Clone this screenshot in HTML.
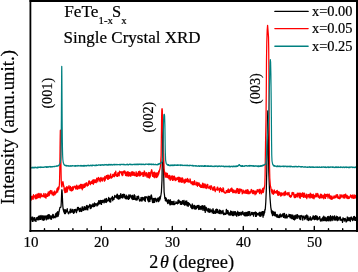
<!DOCTYPE html>
<html><head><meta charset="utf-8"><style>
html,body{margin:0;padding:0;background:#fff;width:358px;height:272px;overflow:hidden}
svg{display:block;will-change:transform}
text{font-family:"Liberation Serif",serif}
</style></head><body>
<svg width="358" height="272" viewBox="0 0 358 272">
<rect width="358" height="272" fill="#fff"/>
<g fill="none" stroke-linejoin="round">
<path d="M31.00 218.13 L31.25 219.68 L31.50 219.91 L31.75 217.07 L32.00 217.59 L32.25 221.41 L32.50 217.21 L32.75 217.18 L33.00 221.35 L33.25 219.62 L33.50 218.29 L33.75 218.95 L34.00 219.78 L34.25 218.06 L34.50 217.55 L34.75 220.80 L35.00 220.25 L35.25 219.40 L35.50 220.98 L35.75 219.77 L36.00 221.47 L36.25 217.68 L36.50 219.20 L36.75 218.85 L37.00 218.31 L37.25 219.43 L37.50 217.64 L37.75 219.91 L38.00 220.06 L38.25 216.56 L38.50 217.78 L38.75 216.79 L39.00 215.88 L39.25 219.58 L39.50 217.41 L39.75 216.05 L40.00 218.41 L40.25 216.09 L40.50 219.45 L40.75 216.22 L41.00 215.31 L41.25 216.04 L41.50 216.90 L41.75 217.59 L42.00 219.72 L42.25 218.82 L42.50 217.26 L42.75 215.73 L43.00 216.42 L43.25 220.41 L43.50 217.87 L43.75 219.19 L44.00 216.04 L44.25 215.84 L44.50 219.86 L44.75 218.57 L45.00 217.27 L45.25 217.45 L45.50 216.19 L45.75 216.58 L46.00 215.91 L46.25 219.80 L46.50 217.87 L46.75 216.04 L47.00 218.98 L47.25 215.82 L47.50 215.48 L47.75 218.01 L48.00 219.10 L48.25 214.70 L48.50 218.39 L48.75 215.40 L49.00 214.93 L49.25 214.71 L49.50 216.11 L49.75 218.17 L50.00 217.10 L50.25 218.92 L50.50 215.86 L50.75 216.02 L51.00 215.85 L51.25 219.27 L51.50 219.25 L51.75 216.10 L52.00 216.67 L52.25 215.72 L52.50 217.68 L52.75 214.28 L53.00 214.30 L53.25 215.80 L53.50 214.97 L53.75 218.03 L54.00 217.47 L54.25 216.44 L54.50 216.65 L54.75 216.88 L55.00 217.03 L55.25 217.77 L55.50 213.87 L55.75 215.78 L56.00 213.46 L56.25 214.65 L56.50 216.31 L56.55 216.80 L56.60 216.32 L56.65 213.02 L56.70 214.48 L56.75 213.35 L56.80 216.99 L56.85 213.08 L56.90 213.46 L56.95 213.90 L57.00 212.42 L57.05 215.81 L57.10 214.85 L57.15 212.79 L57.20 214.27 L57.25 212.32 L57.30 214.36 L57.35 212.98 L57.40 212.30 L57.45 212.37 L57.50 214.36 L57.55 214.86 L57.60 213.63 L57.65 214.92 L57.70 213.57 L57.75 211.55 L57.80 213.05 L57.85 213.59 L57.90 216.19 L57.95 212.67 L58.00 212.30 L58.05 214.45 L58.10 216.29 L58.15 216.05 L58.20 215.25 L58.25 212.63 L58.30 215.53 L58.35 214.79 L58.40 212.26 L58.45 213.78 L58.50 211.98 L58.55 214.85 L58.60 214.58 L58.65 214.61 L58.70 214.20 L58.75 212.26 L58.80 213.73 L58.85 212.12 L58.90 211.60 L58.95 212.19 L59.00 212.20 L59.05 211.48 L59.10 211.91 L59.15 211.59 L59.20 210.57 L59.25 210.99 L59.30 210.27 L59.35 210.56 L59.40 209.68 L59.45 209.89 L59.50 209.29 L59.55 209.10 L59.60 208.91 L59.65 208.62 L59.70 208.40 L59.75 208.21 L59.80 208.04 L59.85 207.87 L59.90 207.73 L59.95 207.61 L60.00 207.50 L60.05 207.42 L60.10 207.35 L60.15 207.30 L60.20 207.27 L60.25 207.25 L60.30 207.25 L60.35 207.26 L60.40 207.27 L60.45 207.30 L60.50 207.32 L60.55 207.34 L60.60 207.35 L60.65 207.35 L60.70 207.32 L60.75 207.27 L60.80 207.18 L60.85 207.04 L60.90 206.84 L60.95 206.58 L61.00 206.22 L61.05 205.78 L61.10 205.22 L61.15 204.55 L61.20 203.75 L61.25 202.83 L61.30 201.78 L61.35 200.63 L61.40 199.38 L61.45 198.06 L61.50 196.70 L61.55 195.35 L61.60 194.05 L61.65 192.85 L61.70 191.78 L61.75 190.90 L61.80 190.24 L61.85 189.84 L61.90 189.71 L61.95 189.81 L62.00 190.10 L62.05 190.56 L62.10 191.18 L62.15 191.95 L62.20 192.84 L62.25 193.84 L62.30 194.91 L62.35 196.04 L62.40 197.21 L62.45 198.37 L62.50 199.53 L62.55 200.65 L62.60 201.73 L62.65 202.75 L62.70 203.69 L62.75 204.57 L62.80 205.37 L62.85 206.09 L62.90 206.73 L62.95 207.30 L63.00 207.77 L63.05 208.32 L63.10 209.04 L63.15 208.43 L63.20 208.81 L63.25 209.35 L63.30 209.81 L63.35 209.05 L63.40 209.17 L63.45 209.63 L63.50 209.97 L63.55 210.96 L63.60 210.77 L63.65 209.37 L63.70 209.40 L63.75 210.65 L63.80 211.96 L63.85 212.04 L63.90 210.46 L63.95 212.14 L64.00 212.23 L64.05 210.74 L64.10 211.99 L64.15 210.97 L64.20 210.16 L64.25 211.57 L64.30 209.95 L64.35 212.12 L64.40 212.71 L64.45 213.16 L64.50 211.53 L64.55 210.35 L64.60 213.29 L64.65 213.22 L64.70 213.55 L64.75 211.87 L64.80 212.37 L64.85 211.29 L64.90 210.58 L64.95 210.79 L65.00 212.50 L65.05 210.98 L65.10 212.18 L65.15 211.70 L65.20 211.56 L65.25 213.67 L65.30 209.66 L65.35 211.76 L65.40 210.35 L65.50 213.44 L65.75 211.62 L66.00 210.97 L66.25 210.26 L66.50 212.12 L66.75 211.49 L67.00 210.17 L67.25 208.59 L67.50 211.10 L67.75 211.99 L68.00 211.82 L68.25 213.53 L68.50 213.75 L68.75 213.80 L69.00 213.10 L69.25 211.78 L69.50 211.90 L69.75 211.19 L70.00 211.07 L70.25 209.13 L70.50 212.77 L70.75 210.27 L71.00 209.08 L71.25 211.02 L71.50 212.18 L71.75 210.93 L72.00 210.71 L72.25 212.07 L72.50 210.03 L72.75 209.33 L73.00 212.21 L73.25 211.98 L73.50 213.43 L73.75 211.26 L74.00 213.02 L74.25 209.61 L74.50 209.69 L74.75 212.25 L75.00 210.44 L75.25 209.38 L75.50 209.46 L75.75 210.42 L76.00 210.11 L76.25 211.15 L76.50 212.64 L76.75 210.05 L77.00 209.00 L77.25 210.60 L77.50 207.40 L77.75 209.17 L78.00 208.72 L78.25 209.05 L78.50 207.46 L78.75 209.63 L79.00 210.07 L79.25 210.68 L79.50 211.67 L79.75 208.50 L80.00 210.01 L80.25 209.01 L80.50 208.08 L80.75 211.22 L81.00 210.67 L81.25 211.49 L81.50 210.70 L81.75 211.48 L82.00 207.40 L82.25 206.76 L82.50 207.83 L82.75 209.02 L83.00 210.18 L83.25 208.91 L83.50 209.20 L83.75 210.32 L84.00 206.82 L84.25 209.62 L84.50 206.62 L84.75 207.39 L85.00 209.60 L85.25 209.42 L85.50 207.83 L85.75 207.22 L86.00 209.77 L86.25 206.97 L86.50 205.73 L86.75 206.78 L87.00 205.36 L87.25 209.18 L87.50 206.21 L87.75 209.94 L88.00 206.35 L88.25 206.43 L88.50 207.63 L88.75 206.38 L89.00 206.75 L89.25 205.28 L89.50 206.43 L89.75 204.31 L90.00 205.49 L90.25 208.59 L90.50 205.12 L90.75 205.23 L91.00 206.97 L91.25 208.13 L91.50 205.20 L91.75 205.11 L92.00 206.64 L92.25 206.71 L92.50 206.07 L92.75 204.00 L93.00 203.82 L93.25 206.48 L93.50 206.10 L93.75 206.89 L94.00 206.17 L94.25 204.17 L94.50 202.80 L94.75 206.46 L95.00 205.43 L95.25 205.06 L95.50 205.22 L95.75 203.81 L96.00 203.63 L96.25 204.58 L96.50 204.04 L96.75 205.19 L97.00 206.08 L97.25 205.57 L97.50 203.18 L97.75 202.92 L98.00 205.01 L98.25 202.17 L98.50 204.14 L98.75 200.66 L99.00 201.83 L99.25 202.59 L99.50 203.77 L99.75 203.90 L100.00 200.57 L100.25 202.71 L100.50 202.75 L100.75 200.45 L101.00 203.92 L101.25 202.71 L101.50 204.34 L101.75 200.61 L102.00 201.95 L102.25 200.42 L102.50 202.32 L102.75 202.02 L103.00 201.37 L103.25 200.09 L103.50 201.25 L103.75 200.59 L104.00 202.89 L104.25 200.34 L104.50 200.44 L104.75 199.08 L105.00 198.95 L105.25 202.14 L105.50 199.14 L105.75 201.79 L106.00 200.59 L106.25 202.50 L106.50 198.26 L106.75 201.92 L107.00 200.92 L107.25 200.30 L107.50 200.98 L107.75 200.94 L108.00 199.65 L108.25 200.54 L108.50 198.38 L108.75 197.35 L109.00 200.57 L109.25 199.49 L109.50 201.70 L109.75 198.54 L110.00 201.25 L110.25 202.16 L110.50 201.58 L110.75 201.95 L111.00 198.01 L111.25 198.07 L111.50 198.38 L111.75 198.86 L112.00 197.09 L112.25 197.08 L112.50 196.41 L112.75 200.59 L113.00 197.73 L113.25 198.84 L113.50 198.04 L113.75 199.43 L114.00 199.41 L114.25 197.26 L114.50 197.77 L114.75 195.37 L115.00 196.40 L115.25 196.17 L115.50 196.15 L115.75 196.14 L116.00 197.26 L116.25 195.84 L116.50 195.52 L116.75 198.00 L117.00 194.32 L117.25 194.15 L117.50 194.40 L117.75 198.64 L118.00 197.66 L118.25 197.83 L118.50 199.07 L118.75 195.72 L119.00 198.93 L119.25 195.54 L119.50 197.10 L119.75 197.44 L120.00 198.73 L120.25 194.96 L120.50 195.94 L120.75 193.59 L121.00 194.30 L121.25 197.59 L121.50 197.16 L121.75 195.73 L122.00 196.93 L122.25 197.54 L122.50 194.71 L122.75 198.02 L123.00 195.59 L123.25 194.20 L123.50 196.16 L123.75 196.41 L124.00 197.14 L124.25 197.08 L124.50 194.32 L124.75 196.97 L125.00 198.16 L125.25 197.21 L125.50 198.63 L125.75 196.43 L126.00 197.86 L126.25 195.03 L126.50 198.78 L126.75 196.77 L127.00 198.90 L127.25 196.24 L127.50 197.40 L127.75 198.58 L128.00 198.63 L128.25 197.55 L128.50 199.35 L128.75 194.93 L129.00 194.93 L129.25 196.85 L129.50 198.58 L129.75 197.17 L130.00 195.40 L130.25 194.79 L130.50 196.52 L130.75 196.59 L131.00 196.84 L131.25 197.63 L131.50 195.98 L131.75 198.80 L132.00 195.97 L132.25 195.26 L132.50 196.47 L132.75 199.56 L133.00 195.77 L133.25 196.22 L133.50 199.33 L133.75 196.51 L134.00 198.63 L134.25 194.63 L134.50 199.25 L134.75 195.84 L135.00 195.73 L135.25 198.59 L135.50 199.76 L135.75 199.47 L136.00 198.56 L136.25 199.57 L136.50 200.09 L136.75 198.42 L137.00 196.34 L137.25 199.91 L137.50 197.88 L137.75 197.43 L138.00 198.37 L138.25 196.03 L138.50 196.26 L138.75 197.34 L139.00 199.08 L139.25 199.66 L139.50 200.98 L139.75 200.52 L140.00 201.23 L140.25 199.66 L140.50 200.40 L140.75 199.87 L141.00 197.59 L141.25 197.47 L141.50 200.76 L141.75 198.34 L142.00 201.15 L142.25 199.55 L142.50 197.30 L142.75 199.84 L143.00 199.23 L143.25 197.68 L143.50 198.28 L143.75 198.54 L144.00 198.62 L144.25 200.47 L144.50 196.98 L144.75 199.02 L145.00 199.57 L145.25 201.34 L145.50 196.92 L145.75 196.72 L146.00 197.49 L146.25 197.59 L146.50 197.50 L146.75 196.88 L147.00 197.80 L147.25 198.04 L147.50 199.34 L147.70 200.02 L147.75 198.78 L147.80 197.82 L147.85 197.80 L147.90 198.33 L147.95 197.87 L148.00 199.28 L148.05 200.89 L148.10 200.39 L148.15 197.70 L148.20 196.85 L148.25 196.05 L148.30 199.04 L148.35 198.91 L148.40 200.54 L148.45 197.59 L148.50 198.52 L148.55 200.45 L148.60 200.21 L148.65 199.85 L148.70 201.80 L148.75 198.09 L148.80 198.38 L148.85 200.14 L148.90 200.08 L148.95 201.92 L149.00 201.73 L149.05 199.64 L149.10 200.45 L149.15 200.31 L149.20 197.48 L149.25 199.75 L149.30 197.94 L149.35 198.10 L149.40 197.20 L149.45 196.46 L149.50 200.55 L149.55 200.10 L149.60 200.33 L149.65 198.35 L149.70 199.31 L149.75 197.86 L149.80 199.98 L149.85 200.95 L149.90 200.71 L149.95 201.37 L150.00 197.47 L150.05 200.09 L150.10 197.53 L150.15 199.14 L150.20 197.36 L150.25 199.30 L150.30 199.12 L150.35 198.43 L150.40 198.18 L150.45 199.31 L150.50 198.37 L150.55 197.94 L150.60 196.85 L150.65 196.99 L150.70 198.40 L150.75 198.24 L150.80 196.48 L150.85 197.20 L150.90 196.80 L150.95 195.42 L151.00 195.32 L151.05 195.78 L151.10 195.10 L151.15 195.85 L151.20 195.11 L151.25 195.63 L151.30 195.64 L151.35 195.18 L151.40 196.46 L151.45 195.57 L151.50 195.40 L151.55 195.45 L151.60 196.66 L151.65 197.46 L151.70 196.94 L151.75 198.78 L151.80 197.42 L151.85 199.53 L151.90 196.98 L151.95 197.84 L152.00 197.77 L152.05 199.20 L152.10 198.87 L152.15 199.23 L152.20 201.28 L152.25 200.16 L152.30 200.88 L152.35 199.71 L152.40 201.71 L152.45 200.41 L152.50 201.61 L152.55 202.53 L152.60 200.82 L152.65 199.77 L152.70 199.02 L152.75 202.36 L152.80 201.63 L152.85 201.92 L152.90 199.09 L152.95 200.03 L153.00 202.03 L153.05 199.09 L153.10 201.75 L153.15 200.57 L153.20 199.25 L153.25 200.13 L153.30 198.80 L153.35 201.47 L153.40 201.70 L153.45 198.50 L153.50 199.89 L153.55 202.26 L153.60 199.66 L153.65 201.27 L153.70 202.51 L153.75 201.13 L153.80 198.91 L153.85 202.40 L153.90 201.73 L153.95 200.88 L154.00 199.76 L154.05 200.79 L154.10 199.64 L154.15 198.76 L154.20 198.78 L154.25 198.43 L154.30 199.09 L154.35 199.58 L154.40 201.48 L154.45 201.50 L154.50 201.37 L154.55 202.40 L154.60 198.99 L154.65 200.49 L154.75 199.05 L155.00 200.38 L155.25 198.72 L155.50 198.20 L155.75 198.51 L156.00 199.79 L156.25 201.60 L156.50 199.40 L156.75 201.61 L157.00 199.33 L157.25 199.44 L157.50 200.25 L157.75 198.19 L158.00 200.05 L158.25 200.79 L158.50 201.72 L158.55 198.01 L158.60 201.29 L158.65 200.21 L158.70 200.38 L158.75 197.99 L158.80 201.27 L158.85 198.56 L158.90 199.46 L158.95 199.37 L159.00 200.89 L159.05 199.27 L159.10 200.87 L159.15 197.49 L159.20 199.31 L159.25 198.81 L159.30 198.33 L159.35 198.93 L159.40 198.69 L159.45 197.23 L159.50 199.17 L159.55 197.02 L159.60 198.40 L159.65 198.34 L159.70 197.61 L159.75 199.13 L159.80 199.89 L159.85 197.42 L159.90 197.82 L159.95 196.88 L160.00 199.21 L160.05 196.98 L160.10 197.45 L160.15 198.06 L160.20 197.89 L160.25 196.49 L160.30 198.91 L160.35 196.68 L160.40 197.52 L160.45 196.31 L160.50 197.22 L160.55 196.44 L160.60 196.21 L160.65 196.37 L160.70 196.40 L160.75 196.22 L160.80 196.19 L160.85 195.22 L160.90 194.80 L160.95 194.74 L161.00 194.56 L161.05 194.35 L161.10 194.00 L161.15 193.67 L161.20 193.33 L161.25 193.00 L161.30 192.67 L161.35 192.33 L161.40 192.00 L161.45 191.00 L161.50 190.00 L161.55 189.00 L161.60 188.00 L161.65 187.00 L161.70 186.00 L161.75 185.00 L161.80 184.00 L161.85 183.00 L161.90 182.00 L161.95 181.00 L162.00 180.00 L162.05 176.67 L162.10 173.33 L162.15 170.00 L162.20 166.67 L162.25 163.33 L162.30 160.00 L162.35 156.33 L162.40 152.67 L162.45 149.00 L162.50 145.33 L162.55 141.67 L162.60 138.00 L162.65 136.00 L162.70 134.00 L162.75 132.00 L162.80 130.00 L162.85 128.00 L162.90 126.00 L162.95 124.00 L163.00 126.67 L163.05 129.33 L163.10 132.00 L163.15 134.67 L163.20 137.33 L163.25 140.00 L163.30 144.00 L163.35 148.00 L163.40 152.00 L163.45 156.00 L163.50 160.00 L163.55 163.33 L163.60 166.67 L163.65 170.00 L163.70 173.33 L163.75 176.67 L163.80 180.00 L163.85 182.00 L163.90 184.00 L163.95 186.00 L164.00 188.00 L164.05 190.00 L164.10 192.00 L164.15 192.39 L164.20 192.79 L164.25 193.18 L164.30 193.57 L164.35 193.96 L164.40 194.36 L164.45 194.75 L164.50 195.08 L164.55 195.50 L164.60 196.38 L164.65 196.83 L164.70 196.76 L164.75 197.80 L164.80 198.56 L164.85 197.44 L164.90 198.78 L164.95 197.63 L165.00 197.76 L165.05 197.10 L165.10 197.52 L165.15 198.73 L165.20 197.39 L165.25 198.86 L165.30 198.22 L165.35 200.62 L165.40 198.38 L165.45 198.53 L165.50 198.87 L165.55 199.87 L165.60 200.77 L165.65 200.77 L165.70 200.71 L165.75 200.57 L165.80 200.22 L165.85 199.29 L165.90 197.99 L165.95 200.98 L166.00 199.37 L166.05 200.41 L166.10 198.24 L166.15 199.47 L166.20 198.35 L166.25 199.43 L166.30 200.82 L166.35 199.43 L166.40 200.81 L166.45 198.78 L166.50 199.75 L166.75 201.17 L167.00 201.64 L167.25 200.34 L167.50 202.82 L167.75 203.63 L168.00 203.48 L168.25 199.72 L168.50 202.35 L168.75 201.51 L169.00 202.66 L169.25 200.41 L169.50 203.75 L169.75 202.42 L170.00 204.92 L170.25 199.64 L170.50 202.28 L170.75 202.75 L171.00 204.62 L171.25 204.21 L171.50 201.36 L171.75 202.12 L172.00 204.02 L172.25 202.41 L172.50 201.52 L172.75 204.55 L173.00 204.28 L173.25 201.90 L173.50 203.05 L173.75 204.73 L174.00 201.11 L174.25 204.57 L174.50 204.53 L174.75 203.64 L175.00 203.65 L175.25 203.84 L175.50 203.23 L175.75 203.50 L176.00 201.52 L176.25 203.35 L176.50 203.47 L176.75 202.56 L177.00 203.38 L177.25 202.35 L177.50 203.86 L177.75 203.51 L178.00 200.33 L178.25 203.47 L178.50 201.12 L178.75 199.97 L179.00 200.38 L179.25 201.15 L179.50 202.39 L179.75 201.90 L180.00 201.33 L180.25 203.97 L180.50 202.00 L180.75 204.43 L181.00 201.37 L181.25 203.68 L181.50 202.12 L181.75 204.43 L182.00 203.25 L182.25 203.48 L182.50 200.62 L182.75 203.63 L183.00 201.84 L183.25 203.61 L183.50 204.26 L183.75 200.87 L184.00 200.34 L184.25 203.96 L184.50 205.14 L184.75 204.80 L185.00 202.93 L185.25 204.90 L185.50 201.08 L185.75 201.35 L186.00 203.78 L186.25 203.50 L186.50 204.95 L186.75 200.89 L187.00 203.47 L187.25 205.93 L187.50 202.59 L187.75 202.78 L188.00 204.25 L188.25 206.27 L188.50 202.51 L188.75 204.87 L189.00 203.68 L189.25 204.13 L189.50 203.48 L189.75 204.77 L190.00 205.29 L190.25 204.59 L190.50 205.31 L190.75 206.56 L191.00 207.47 L191.25 206.14 L191.50 205.66 L191.75 208.55 L192.00 204.86 L192.25 203.93 L192.50 208.58 L192.75 205.67 L193.00 205.28 L193.25 206.52 L193.50 206.48 L193.75 206.51 L194.00 208.74 L194.25 206.21 L194.50 205.28 L194.75 205.70 L195.00 209.24 L195.25 207.06 L195.50 206.31 L195.75 208.08 L196.00 209.06 L196.25 207.02 L196.50 208.42 L196.75 205.84 L197.00 206.50 L197.25 207.65 L197.50 205.74 L197.75 206.02 L198.00 205.44 L198.25 205.52 L198.50 208.76 L198.75 209.50 L199.00 205.42 L199.25 206.57 L199.50 208.41 L199.75 209.24 L200.00 207.65 L200.25 208.40 L200.50 206.27 L200.75 208.92 L201.00 209.57 L201.25 207.84 L201.50 206.97 L201.75 205.81 L202.00 208.77 L202.25 208.76 L202.50 205.66 L202.75 208.23 L203.00 210.35 L203.25 206.02 L203.50 206.68 L203.75 206.21 L204.00 208.12 L204.25 208.08 L204.50 210.50 L204.75 205.62 L205.00 207.38 L205.25 212.45 L205.50 207.03 L205.75 208.24 L206.00 209.17 L206.25 207.29 L206.50 208.86 L206.75 210.65 L207.00 210.79 L207.25 210.92 L207.50 211.11 L207.75 211.13 L208.00 208.49 L208.25 212.08 L208.50 211.06 L208.75 208.96 L209.00 210.01 L209.25 209.29 L209.50 212.29 L209.75 209.47 L210.00 208.87 L210.25 211.77 L210.50 211.60 L210.75 211.88 L211.00 210.95 L211.25 209.94 L211.50 210.08 L211.75 210.63 L212.00 210.92 L212.25 212.86 L212.50 209.77 L212.75 212.20 L213.00 208.66 L213.25 209.62 L213.50 213.35 L213.75 210.26 L214.00 211.45 L214.25 213.21 L214.50 211.94 L214.75 211.51 L215.00 212.28 L215.25 213.49 L215.50 213.20 L215.75 209.61 L216.00 209.49 L216.25 210.08 L216.50 209.19 L216.75 212.43 L217.00 212.90 L217.25 209.65 L217.50 209.47 L217.75 210.46 L218.00 212.30 L218.25 212.86 L218.50 211.26 L218.75 212.20 L219.00 213.44 L219.25 213.53 L219.50 209.95 L219.75 212.66 L220.00 213.18 L220.25 213.73 L220.50 211.51 L220.75 210.36 L221.00 211.81 L221.25 211.21 L221.50 211.60 L221.75 213.58 L222.00 212.91 L222.25 212.89 L222.50 212.99 L222.75 210.70 L223.00 210.33 L223.25 212.22 L223.50 214.60 L223.75 213.46 L224.00 214.09 L224.25 213.05 L224.50 213.83 L224.75 214.56 L225.00 213.27 L225.25 214.12 L225.50 214.46 L225.75 213.13 L226.00 213.38 L226.25 209.87 L226.50 209.32 L226.75 213.82 L227.00 210.81 L227.25 211.45 L227.50 210.58 L227.75 213.42 L228.00 210.57 L228.25 214.19 L228.50 211.94 L228.75 214.26 L229.00 215.08 L229.25 214.04 L229.50 212.98 L229.75 214.06 L230.00 215.01 L230.25 214.33 L230.50 212.18 L230.75 210.93 L231.00 215.24 L231.25 214.09 L231.50 211.57 L231.75 214.09 L232.00 214.43 L232.25 212.83 L232.50 215.52 L232.75 212.38 L233.00 211.38 L233.25 212.84 L233.50 212.94 L233.75 215.69 L234.00 214.63 L234.25 211.91 L234.50 213.16 L234.75 211.51 L235.00 214.17 L235.25 215.12 L235.50 211.64 L235.75 213.59 L236.00 212.73 L236.25 213.07 L236.50 215.46 L236.75 216.38 L237.00 212.77 L237.25 214.35 L237.50 213.19 L237.75 211.25 L238.00 214.79 L238.25 212.60 L238.50 215.48 L238.75 215.70 L239.00 212.49 L239.25 214.56 L239.50 212.62 L239.75 215.22 L240.00 212.88 L240.25 214.60 L240.50 214.41 L240.75 213.97 L241.00 212.18 L241.25 215.02 L241.50 212.39 L241.75 214.41 L242.00 212.83 L242.25 212.61 L242.50 213.89 L242.75 211.38 L243.00 214.32 L243.25 212.82 L243.50 214.26 L243.75 214.24 L244.00 215.36 L244.25 212.98 L244.50 212.68 L244.75 215.82 L245.00 213.80 L245.25 213.30 L245.50 214.52 L245.75 212.36 L246.00 216.01 L246.25 215.01 L246.50 214.34 L246.75 212.46 L247.00 215.18 L247.25 215.77 L247.50 215.15 L247.75 215.67 L248.00 211.64 L248.25 214.84 L248.50 215.43 L248.75 213.52 L249.00 211.56 L249.25 213.86 L249.50 212.59 L249.75 211.55 L250.00 215.78 L250.25 215.06 L250.50 214.30 L250.75 215.06 L251.00 214.75 L251.25 213.96 L251.50 212.40 L251.75 213.23 L252.00 214.10 L252.25 214.48 L252.50 213.08 L252.75 212.38 L253.00 213.54 L253.25 212.85 L253.50 216.17 L253.75 212.59 L254.00 213.38 L254.25 213.90 L254.50 212.63 L254.75 213.81 L255.00 214.22 L255.25 211.98 L255.50 216.48 L255.75 214.50 L256.00 212.45 L256.25 216.45 L256.50 212.72 L256.75 215.52 L257.00 214.64 L257.25 213.53 L257.50 214.06 L257.75 214.54 L258.00 214.05 L258.25 213.22 L258.50 213.78 L258.75 214.01 L259.00 215.35 L259.25 213.21 L259.50 212.38 L259.75 216.10 L260.00 212.23 L260.25 214.72 L260.50 214.13 L260.75 216.29 L261.00 212.51 L261.25 215.67 L261.50 212.05 L261.75 211.99 L262.00 214.21 L262.25 211.88 L262.50 213.62 L262.55 214.27 L262.60 211.61 L262.65 214.77 L262.70 213.39 L262.75 215.87 L262.80 211.64 L262.85 212.35 L262.90 214.97 L262.95 213.56 L263.00 214.05 L263.05 217.28 L263.10 213.60 L263.15 212.08 L263.20 212.57 L263.25 214.39 L263.30 215.27 L263.35 215.28 L263.40 213.93 L263.45 212.78 L263.50 212.23 L263.55 212.55 L263.60 212.60 L263.65 215.51 L263.70 213.35 L263.75 212.09 L263.80 213.91 L263.85 213.18 L263.90 211.34 L263.95 214.79 L264.00 214.47 L264.05 211.77 L264.10 213.85 L264.15 212.23 L264.20 212.97 L264.25 212.94 L264.30 213.19 L264.35 212.01 L264.40 210.99 L264.45 213.14 L264.50 211.76 L264.55 211.77 L264.60 212.52 L264.65 211.99 L264.70 212.60 L264.75 210.80 L264.80 211.07 L264.85 209.55 L264.90 209.40 L264.95 209.59 L265.00 209.47 L265.05 209.58 L265.10 209.12 L265.15 209.90 L265.20 209.02 L265.25 208.83 L265.30 209.15 L265.35 208.33 L265.40 207.60 L265.45 206.90 L265.50 206.20 L265.55 205.50 L265.60 204.80 L265.65 204.10 L265.70 203.40 L265.75 202.70 L265.80 202.00 L265.85 200.80 L265.90 199.60 L265.95 198.40 L266.00 197.20 L266.05 196.00 L266.10 194.80 L266.15 193.60 L266.20 192.40 L266.25 191.20 L266.30 190.00 L266.35 188.00 L266.40 186.00 L266.45 184.00 L266.50 182.00 L266.55 180.00 L266.60 178.00 L266.65 176.00 L266.70 174.00 L266.75 172.00 L266.80 170.00 L266.85 166.67 L266.90 163.33 L266.95 160.00 L267.00 156.67 L267.05 153.33 L267.10 150.00 L267.15 145.83 L267.20 141.67 L267.25 137.50 L267.30 133.33 L267.35 129.17 L267.40 125.00 L267.45 123.22 L267.50 121.45 L267.55 119.67 L267.60 117.90 L267.65 116.13 L267.70 114.35 L267.75 112.58 L267.80 110.80 L267.85 112.00 L267.90 113.20 L267.95 114.40 L268.00 115.60 L268.05 116.80 L268.10 118.00 L268.15 122.25 L268.20 126.50 L268.25 130.75 L268.30 135.00 L268.35 140.00 L268.40 145.00 L268.45 150.00 L268.50 155.00 L268.55 157.83 L268.60 160.67 L268.65 163.50 L268.70 166.33 L268.75 169.17 L268.80 172.00 L268.85 173.33 L268.90 174.67 L268.95 176.00 L269.00 177.33 L269.05 178.67 L269.10 180.00 L269.15 181.33 L269.20 182.67 L269.25 184.00 L269.30 185.33 L269.35 186.67 L269.40 188.00 L269.45 188.79 L269.50 189.57 L269.55 190.36 L269.60 191.14 L269.65 191.93 L269.70 192.71 L269.75 193.50 L269.80 194.29 L269.85 195.07 L269.90 195.86 L269.95 196.64 L270.00 197.43 L270.05 198.21 L270.10 199.00 L270.15 199.61 L270.20 200.21 L270.25 200.82 L270.30 201.43 L270.35 202.04 L270.40 202.64 L270.45 203.25 L270.50 203.86 L270.55 204.46 L270.60 205.07 L270.65 205.68 L270.70 206.29 L270.75 206.89 L270.80 207.50 L270.85 207.77 L270.90 208.12 L270.95 208.06 L271.00 208.20 L271.05 209.18 L271.10 209.32 L271.15 209.80 L271.20 209.17 L271.25 209.24 L271.30 210.63 L271.35 211.74 L271.40 211.62 L271.45 211.79 L271.50 212.82 L271.55 211.14 L271.60 211.83 L271.65 211.49 L271.70 212.96 L271.75 212.20 L271.80 212.91 L271.85 212.93 L271.90 213.82 L271.95 213.71 L272.00 210.57 L272.05 213.11 L272.10 212.01 L272.15 211.02 L272.20 212.79 L272.25 214.45 L272.30 214.47 L272.35 211.42 L272.40 211.90 L272.45 214.33 L272.50 215.68 L272.75 211.67 L273.00 211.46 L273.25 214.42 L273.50 214.18 L273.75 215.13 L274.00 211.94 L274.25 214.16 L274.50 215.66 L274.75 213.79 L275.00 213.98 L275.25 212.13 L275.50 215.97 L275.75 214.52 L276.00 214.52 L276.25 215.82 L276.50 216.99 L276.75 216.93 L277.00 214.33 L277.25 215.86 L277.50 214.82 L277.75 217.27 L278.00 217.29 L278.25 216.77 L278.50 217.52 L278.75 215.99 L279.00 216.58 L279.25 214.82 L279.50 217.53 L279.75 215.65 L280.00 216.90 L280.25 213.99 L280.50 215.86 L280.75 216.82 L281.00 216.86 L281.25 216.56 L281.50 214.96 L281.75 216.59 L282.00 216.28 L282.25 216.05 L282.50 214.86 L282.75 213.86 L283.00 215.80 L283.25 213.50 L283.50 217.41 L283.75 214.56 L284.00 213.95 L284.25 214.74 L284.50 213.29 L284.75 217.47 L285.00 218.15 L285.25 217.09 L285.50 216.02 L285.75 217.75 L286.00 214.89 L286.25 215.50 L286.50 214.28 L286.75 215.67 L287.00 218.23 L287.25 216.82 L287.50 216.22 L287.75 216.11 L288.00 216.74 L288.25 216.58 L288.50 215.89 L288.75 216.21 L289.00 214.25 L289.25 215.83 L289.50 216.91 L289.75 214.68 L290.00 215.13 L290.25 217.82 L290.50 214.69 L290.75 215.12 L291.00 217.95 L291.25 214.82 L291.50 215.52 L291.75 218.61 L292.00 216.28 L292.25 218.36 L292.50 218.32 L292.75 214.94 L293.00 216.06 L293.25 219.32 L293.50 216.57 L293.75 217.06 L294.00 219.56 L294.25 215.76 L294.50 219.99 L294.75 218.44 L295.00 218.22 L295.25 215.24 L295.50 218.09 L295.75 219.00 L296.00 216.90 L296.25 215.48 L296.50 215.37 L296.75 214.80 L297.00 216.44 L297.25 218.42 L297.50 214.68 L297.75 216.09 L298.00 216.36 L298.25 216.38 L298.50 217.18 L298.75 217.19 L299.00 215.62 L299.25 218.48 L299.50 217.04 L299.75 216.47 L300.00 219.47 L300.25 218.10 L300.50 215.68 L300.75 219.66 L301.00 217.59 L301.25 216.22 L301.50 216.18 L301.75 215.41 L302.00 216.10 L302.25 216.20 L302.50 216.77 L302.75 220.12 L303.00 218.27 L303.25 216.49 L303.50 217.24 L303.75 217.67 L304.00 215.98 L304.25 217.49 L304.50 217.50 L304.75 219.53 L305.00 217.21 L305.25 218.57 L305.50 218.34 L305.75 215.67 L306.00 217.56 L306.25 216.94 L306.50 215.65 L306.75 214.88 L307.00 219.68 L307.25 215.65 L307.50 219.67 L307.75 217.40 L308.00 216.13 L308.25 220.57 L308.50 219.19 L308.75 218.26 L309.00 220.28 L309.25 219.64 L309.50 218.17 L309.75 219.48 L310.00 219.39 L310.25 216.61 L310.50 219.28 L310.75 220.16 L311.00 219.05 L311.25 219.09 L311.50 220.11 L311.75 218.98 L312.00 217.51 L312.25 217.88 L312.50 219.15 L312.75 218.31 L313.00 215.94 L313.25 215.82 L313.50 216.71 L313.75 219.14 L314.00 216.38 L314.25 217.25 L314.50 219.67 L314.75 216.27 L315.00 216.38 L315.25 216.83 L315.50 215.70 L315.75 219.27 L316.00 217.07 L316.25 217.39 L316.50 217.01 L316.75 215.88 L317.00 219.76 L317.25 216.39 L317.50 217.21 L317.75 219.76 L318.00 217.60 L318.25 218.54 L318.50 218.11 L318.75 219.12 L319.00 217.89 L319.25 218.61 L319.50 216.53 L319.75 216.66 L320.00 218.86 L320.25 220.32 L320.50 221.11 L320.75 220.42 L321.00 219.01 L321.25 219.45 L321.50 219.18 L321.75 219.61 L322.00 221.04 L322.25 218.02 L322.50 218.57 L322.75 220.20 L323.00 217.30 L323.25 216.83 L323.50 220.57 L323.75 216.18 L324.00 220.31 L324.25 220.53 L324.50 217.13 L324.75 219.87 L325.00 217.51 L325.25 217.18 L325.50 220.67 L325.75 220.16 L326.00 219.78 L326.25 217.79 L326.50 220.85 L326.75 218.71 L327.00 220.78 L327.25 219.67 L327.50 216.53 L327.75 219.98 L328.00 220.35 L328.25 220.71 L328.50 219.49 L328.75 216.36 L329.00 220.98 L329.25 218.11 L329.50 217.02 L329.75 217.35 L330.00 217.36 L330.25 220.15 L330.50 215.55 L330.75 220.85 L331.00 216.25 L331.25 219.62 L331.50 217.15 L331.75 218.70 L332.00 217.27 L332.25 220.54 L332.50 216.16 L332.75 218.23 L333.00 218.82 L333.25 218.04 L333.50 216.82 L333.75 217.00 L334.00 220.22 L334.25 216.34 L334.50 215.82 L334.75 219.86 L335.00 219.47 L335.25 218.61 L335.50 217.59 L335.75 220.23 L336.00 218.07 L336.25 216.23 L336.50 218.20 L336.75 218.75 L337.00 218.99 L337.25 220.68 L337.50 216.65 L337.75 220.64 L338.00 219.21 L338.25 220.11 L338.50 218.38 L338.75 217.84 L339.00 217.43 L339.25 217.15 L339.50 218.07 L339.75 218.91 L340.00 220.03 L340.25 216.76 L340.50 218.37 L340.75 218.72 L341.00 220.34 L341.25 220.19 L341.50 219.92 L341.75 220.12 L342.00 219.33 L342.25 220.93 L342.50 222.42 L342.75 219.83 L343.00 217.72 L343.25 219.44 L343.50 218.69 L343.75 218.54 L344.00 218.80 L344.25 221.13 L344.50 218.94 L344.75 219.23 L345.00 218.97 L345.25 218.35 L345.50 220.15 L345.75 219.59 L346.00 221.90 L346.25 220.25 L346.50 221.77 L346.75 221.04 L347.00 219.26 L347.25 216.96 L347.50 217.81 L347.75 217.60 L348.00 220.68 L348.25 217.50 L348.50 219.83 L348.75 218.15 L349.00 219.07 L349.25 220.34 L349.50 218.31 L349.75 217.58 L350.00 218.13 L350.25 221.50 L350.50 219.38 L350.75 217.87 L351.00 217.24 L351.25 216.95 L351.50 218.20 L351.75 219.36 L352.00 218.31 L352.25 219.94 L352.50 220.72 L352.75 218.79 L353.00 217.77 L353.25 219.72 L353.50 216.68 L353.75 219.73 L354.00 220.17 L354.25 219.65 L354.50 216.46 L354.75 218.79 L355.00 220.10 L355.25 218.39 L355.50 220.47 L355.75 217.29 L356.00 219.04" stroke="#000" stroke-width="1.25"/>
<path d="M31.00 196.59 L31.25 200.07 L31.50 196.35 L31.75 196.48 L32.00 197.23 L32.25 196.87 L32.50 198.64 L32.75 196.02 L33.00 199.44 L33.25 198.94 L33.50 194.69 L33.75 197.50 L34.00 195.36 L34.25 195.81 L34.50 196.66 L34.75 196.70 L35.00 196.71 L35.25 198.77 L35.50 195.59 L35.75 194.75 L36.00 197.10 L36.25 198.45 L36.50 198.57 L36.75 198.22 L37.00 194.22 L37.25 198.22 L37.50 196.81 L37.75 197.85 L38.00 195.56 L38.25 193.48 L38.50 197.29 L38.75 196.76 L39.00 197.52 L39.25 194.35 L39.50 193.78 L39.75 196.91 L40.00 193.28 L40.25 197.98 L40.50 194.16 L40.75 196.05 L41.00 195.10 L41.25 194.80 L41.50 193.85 L41.75 196.57 L42.00 196.87 L42.25 196.24 L42.50 195.70 L42.75 196.14 L43.00 195.41 L43.25 195.11 L43.50 196.68 L43.75 193.78 L44.00 193.49 L44.25 196.95 L44.50 197.12 L44.75 195.03 L45.00 196.86 L45.25 196.80 L45.50 197.68 L45.75 193.53 L46.00 198.13 L46.25 195.11 L46.50 194.94 L46.75 196.29 L47.00 195.94 L47.25 194.67 L47.50 193.73 L47.75 196.44 L48.00 195.72 L48.25 191.77 L48.50 193.13 L48.75 194.65 L49.00 195.29 L49.25 195.58 L49.50 191.69 L49.75 194.36 L50.00 193.37 L50.25 190.54 L50.50 191.07 L50.75 191.00 L51.00 190.48 L51.25 193.52 L51.50 191.79 L51.75 193.45 L52.00 190.85 L52.25 194.91 L52.50 194.21 L52.75 194.79 L53.00 194.04 L53.25 193.24 L53.50 192.13 L53.75 195.54 L54.00 192.07 L54.25 193.64 L54.50 191.52 L54.75 190.98 L55.00 194.72 L55.25 194.13 L55.50 192.15 L55.75 193.35 L56.00 193.36 L56.25 192.31 L56.50 192.62 L56.75 190.33 L56.90 189.38 L56.95 189.54 L57.00 188.70 L57.05 188.92 L57.10 191.64 L57.15 192.21 L57.20 188.83 L57.25 191.28 L57.30 191.33 L57.35 190.77 L57.40 190.30 L57.45 190.25 L57.50 190.86 L57.55 188.98 L57.60 190.91 L57.65 188.81 L57.70 187.95 L57.75 191.99 L57.80 187.96 L57.85 188.41 L57.90 187.83 L57.95 187.47 L58.00 187.80 L58.05 190.53 L58.10 189.79 L58.15 188.77 L58.20 187.42 L58.25 190.04 L58.30 188.97 L58.35 190.08 L58.40 188.93 L58.45 187.48 L58.50 187.50 L58.55 189.47 L58.60 187.76 L58.65 187.56 L58.70 188.20 L58.75 187.63 L58.80 187.53 L58.85 188.75 L58.90 187.69 L58.95 188.92 L59.00 186.45 L59.05 186.75 L59.10 187.69 L59.15 186.76 L59.20 186.78 L59.25 185.92 L59.30 185.48 L59.35 185.09 L59.40 184.27 L59.45 183.27 L59.50 182.04 L59.55 180.54 L59.60 178.72 L59.65 176.56 L59.70 174.03 L59.75 171.13 L59.80 167.86 L59.85 164.25 L59.90 160.35 L59.95 156.24 L60.00 152.03 L60.05 147.82 L60.10 143.76 L60.15 139.99 L60.20 136.65 L60.25 133.89 L60.30 131.83 L60.35 130.54 L60.40 130.10 L60.45 130.52 L60.50 131.78 L60.55 133.82 L60.60 136.55 L60.65 139.86 L60.70 143.61 L60.75 147.64 L60.80 151.83 L60.85 156.02 L60.90 160.10 L60.95 163.97 L61.00 167.55 L61.05 170.80 L61.10 173.67 L61.15 176.17 L61.20 178.30 L61.25 180.08 L61.30 181.55 L61.35 182.74 L61.40 183.69 L61.45 184.47 L61.50 185.12 L61.55 185.92 L61.60 185.46 L61.65 186.40 L61.70 185.92 L61.75 185.67 L61.80 185.88 L61.85 186.91 L61.90 186.11 L61.95 186.01 L62.00 186.55 L62.05 186.26 L62.10 186.06 L62.15 184.92 L62.20 185.48 L62.25 184.89 L62.30 184.59 L62.35 184.17 L62.40 183.82 L62.45 183.47 L62.50 183.13 L62.55 182.80 L62.60 182.50 L62.65 182.24 L62.70 182.01 L62.75 181.84 L62.80 181.73 L62.85 181.68 L62.90 181.70 L62.95 181.78 L63.00 181.90 L63.05 182.07 L63.10 182.28 L63.15 182.53 L63.20 182.81 L63.25 183.13 L63.30 183.47 L63.35 183.83 L63.40 184.20 L63.45 184.63 L63.50 185.02 L63.55 184.85 L63.60 185.42 L63.65 186.45 L63.70 185.76 L63.75 185.58 L63.80 186.06 L63.85 187.05 L63.90 186.25 L63.95 186.34 L64.00 186.78 L64.05 189.21 L64.10 190.11 L64.15 187.52 L64.20 189.26 L64.25 189.82 L64.30 187.80 L64.35 190.84 L64.40 190.72 L64.45 190.63 L64.50 189.70 L64.55 191.05 L64.60 191.33 L64.65 189.20 L64.70 188.80 L64.75 192.07 L64.80 189.99 L64.85 189.67 L64.90 192.72 L64.95 190.85 L65.00 190.81 L65.05 191.11 L65.10 191.44 L65.15 190.86 L65.20 191.94 L65.25 190.86 L65.30 191.11 L65.35 191.32 L65.40 187.82 L65.45 192.03 L65.50 190.94 L65.55 188.09 L65.60 190.96 L65.65 191.05 L65.70 189.95 L65.75 189.15 L65.80 190.24 L65.85 188.85 L65.90 190.13 L65.95 190.94 L66.00 191.19 L66.05 190.55 L66.10 192.41 L66.15 192.23 L66.20 192.24 L66.25 190.48 L66.30 189.02 L66.35 187.69 L66.40 189.89 L66.50 189.41 L66.75 186.65 L67.00 187.11 L67.25 191.83 L67.50 189.45 L67.75 189.85 L68.00 187.19 L68.25 187.53 L68.50 188.22 L68.75 187.29 L69.00 185.68 L69.25 188.17 L69.50 189.14 L69.75 187.73 L70.00 190.46 L70.25 190.54 L70.50 186.38 L70.75 188.28 L71.00 189.16 L71.25 188.10 L71.50 190.84 L71.75 187.74 L72.00 190.62 L72.25 187.89 L72.50 190.35 L72.75 186.54 L73.00 189.84 L73.25 189.71 L73.50 188.25 L73.75 186.80 L74.00 187.31 L74.25 186.01 L74.50 186.44 L74.75 187.44 L75.00 187.30 L75.25 187.08 L75.50 188.89 L75.75 186.01 L76.00 188.74 L76.25 188.82 L76.50 186.52 L76.75 185.01 L77.00 188.86 L77.25 188.33 L77.50 187.05 L77.75 189.30 L78.00 186.16 L78.25 188.10 L78.50 187.93 L78.75 186.45 L79.00 188.25 L79.25 185.25 L79.50 185.94 L79.75 186.74 L80.00 188.64 L80.25 187.71 L80.50 184.48 L80.75 186.92 L81.00 184.31 L81.25 185.62 L81.50 188.27 L81.75 184.94 L82.00 184.33 L82.25 189.79 L82.50 184.96 L82.75 186.71 L83.00 184.89 L83.25 188.02 L83.50 187.16 L83.75 187.31 L84.00 184.24 L84.25 185.23 L84.50 187.49 L84.75 184.66 L85.00 183.52 L85.25 186.77 L85.50 183.90 L85.75 185.44 L86.00 183.65 L86.25 182.65 L86.50 184.88 L86.75 185.39 L87.00 185.65 L87.25 186.22 L87.50 184.01 L87.75 184.64 L88.00 182.80 L88.25 185.47 L88.50 182.78 L88.75 181.19 L89.00 181.90 L89.25 180.74 L89.50 183.97 L89.75 181.64 L90.00 183.01 L90.25 182.32 L90.50 184.63 L90.75 182.13 L91.00 181.81 L91.25 182.04 L91.50 181.29 L91.75 183.36 L92.00 182.64 L92.25 183.29 L92.50 180.03 L92.75 183.25 L93.00 182.14 L93.25 184.30 L93.50 184.05 L93.75 179.53 L94.00 182.41 L94.25 180.54 L94.50 182.61 L94.75 179.90 L95.00 181.69 L95.25 182.34 L95.50 181.45 L95.75 179.92 L96.00 181.89 L96.25 182.76 L96.50 179.20 L96.75 178.12 L97.00 179.26 L97.25 179.26 L97.50 179.16 L97.75 181.77 L98.00 178.34 L98.25 177.72 L98.50 177.48 L98.75 179.74 L99.00 178.67 L99.25 179.58 L99.50 180.94 L99.75 179.17 L100.00 178.15 L100.25 181.77 L100.50 178.10 L100.75 178.56 L101.00 177.34 L101.25 179.80 L101.50 178.20 L101.75 180.74 L102.00 179.17 L102.25 181.03 L102.50 178.66 L102.75 180.82 L103.00 177.61 L103.25 178.84 L103.50 178.87 L103.75 179.15 L104.00 178.10 L104.25 178.43 L104.50 181.16 L104.75 176.47 L105.00 178.04 L105.25 180.20 L105.50 177.69 L105.75 177.41 L106.00 177.42 L106.25 175.55 L106.50 175.67 L106.75 178.29 L107.00 177.51 L107.25 175.52 L107.50 176.90 L107.75 179.38 L108.00 174.83 L108.25 178.21 L108.50 179.18 L108.75 177.48 L109.00 175.61 L109.25 176.98 L109.50 178.44 L109.75 177.46 L110.00 178.07 L110.25 176.44 L110.50 174.00 L110.75 173.99 L111.00 177.53 L111.25 176.35 L111.50 178.03 L111.75 177.66 L112.00 176.48 L112.25 176.26 L112.50 177.15 L112.75 174.39 L113.00 175.43 L113.25 176.70 L113.50 175.80 L113.75 174.02 L114.00 174.80 L114.25 173.65 L114.50 176.60 L114.75 172.53 L115.00 175.52 L115.25 173.26 L115.50 172.75 L115.75 171.05 L116.00 172.91 L116.25 175.73 L116.50 176.19 L116.75 174.53 L117.00 175.99 L117.25 174.87 L117.50 176.38 L117.75 172.80 L118.00 172.81 L118.25 172.63 L118.50 175.35 L118.75 175.78 L119.00 175.12 L119.25 175.81 L119.50 171.13 L119.75 171.91 L120.00 171.73 L120.25 172.31 L120.50 172.66 L120.75 172.68 L121.00 171.74 L121.25 173.52 L121.50 174.09 L121.75 174.66 L122.00 171.70 L122.25 175.61 L122.50 172.18 L122.75 172.51 L123.00 175.06 L123.25 171.74 L123.50 172.62 L123.75 172.31 L124.00 170.99 L124.25 170.82 L124.50 171.48 L124.75 173.51 L125.00 171.14 L125.25 172.17 L125.50 175.34 L125.75 173.49 L126.00 172.40 L126.25 175.81 L126.50 175.00 L126.75 173.14 L127.00 175.59 L127.25 171.70 L127.50 173.22 L127.75 175.85 L128.00 173.97 L128.25 171.84 L128.50 172.18 L128.75 176.24 L129.00 173.44 L129.25 175.80 L129.50 172.58 L129.75 174.30 L130.00 172.42 L130.25 175.35 L130.50 175.27 L130.75 176.36 L131.00 173.85 L131.25 175.25 L131.50 171.78 L131.75 174.22 L132.00 175.05 L132.25 175.24 L132.50 173.08 L132.75 171.65 L133.00 174.48 L133.25 175.25 L133.50 174.03 L133.75 172.44 L134.00 173.58 L134.25 172.42 L134.50 175.70 L134.75 174.54 L135.00 174.02 L135.25 174.45 L135.50 175.64 L135.75 175.91 L136.00 171.82 L136.25 171.87 L136.50 176.33 L136.75 173.30 L137.00 175.28 L137.25 173.57 L137.50 175.56 L137.75 176.18 L138.00 172.74 L138.25 175.23 L138.50 171.74 L138.75 171.73 L139.00 173.81 L139.25 175.60 L139.50 175.98 L139.75 171.21 L140.00 172.61 L140.25 171.78 L140.50 175.62 L140.75 173.61 L141.00 173.30 L141.25 174.05 L141.50 174.00 L141.75 174.72 L142.00 172.37 L142.25 172.63 L142.50 173.35 L142.75 172.85 L143.00 176.48 L143.25 172.70 L143.50 175.94 L143.75 172.82 L144.00 176.17 L144.25 170.78 L144.50 174.21 L144.75 174.88 L145.00 172.01 L145.25 174.59 L145.50 174.28 L145.75 176.00 L146.00 174.02 L146.25 174.63 L146.50 172.52 L146.75 175.75 L147.00 177.21 L147.25 176.17 L147.50 176.19 L147.75 175.82 L148.00 173.28 L148.10 176.84 L148.15 172.98 L148.20 174.70 L148.25 177.70 L148.30 176.47 L148.35 174.05 L148.40 174.42 L148.45 175.65 L148.50 174.93 L148.55 173.84 L148.60 174.44 L148.65 176.43 L148.70 174.93 L148.75 175.00 L148.80 172.96 L148.85 172.28 L148.90 176.15 L148.95 176.16 L149.00 174.39 L149.05 175.11 L149.10 175.44 L149.15 174.46 L149.20 172.80 L149.25 172.59 L149.30 176.18 L149.35 176.81 L149.40 173.25 L149.45 176.87 L149.50 173.17 L149.55 178.07 L149.60 175.26 L149.65 175.19 L149.70 177.31 L149.75 175.83 L149.80 174.85 L149.85 176.14 L149.90 174.11 L149.95 172.97 L150.00 175.73 L150.05 175.78 L150.10 175.02 L150.15 173.45 L150.20 176.93 L150.25 176.17 L150.30 173.36 L150.35 175.69 L150.40 175.38 L150.45 173.04 L150.50 175.85 L150.55 173.24 L150.60 175.46 L150.65 175.13 L150.70 175.85 L150.75 173.34 L150.80 174.01 L150.85 174.23 L150.90 171.69 L150.95 171.98 L151.00 172.90 L151.05 173.22 L151.10 171.86 L151.15 172.71 L151.20 172.42 L151.25 171.01 L151.30 170.76 L151.35 170.86 L151.40 170.58 L151.45 170.65 L151.50 169.79 L151.55 170.31 L151.60 169.90 L151.65 169.78 L151.70 169.90 L151.75 169.79 L151.80 169.98 L151.85 170.76 L151.90 170.21 L151.95 171.54 L152.00 171.55 L152.05 171.43 L152.10 171.79 L152.15 172.69 L152.20 173.17 L152.25 172.66 L152.30 171.76 L152.35 173.84 L152.40 173.06 L152.45 174.92 L152.50 175.51 L152.55 173.52 L152.60 173.48 L152.65 176.43 L152.70 175.70 L152.75 175.50 L152.80 172.81 L152.85 175.79 L152.90 174.40 L152.95 174.20 L153.00 173.38 L153.05 175.44 L153.10 175.84 L153.15 174.04 L153.20 175.35 L153.25 175.04 L153.30 173.25 L153.35 175.23 L153.40 172.91 L153.45 175.06 L153.50 175.33 L153.55 176.03 L153.60 175.98 L153.65 175.22 L153.70 172.37 L153.75 172.96 L153.80 175.74 L153.85 177.18 L153.90 173.34 L153.95 177.01 L154.00 175.37 L154.05 175.92 L154.10 172.59 L154.15 174.71 L154.20 177.17 L154.25 173.50 L154.30 173.75 L154.35 174.57 L154.40 174.88 L154.45 172.54 L154.50 172.61 L154.55 174.94 L154.60 172.07 L154.65 173.49 L154.70 173.69 L154.75 173.48 L154.80 177.76 L154.85 173.36 L154.90 175.67 L154.95 173.84 L155.00 177.20 L155.05 176.35 L155.25 173.67 L155.50 175.67 L155.75 175.53 L156.00 172.79 L156.05 176.86 L156.10 174.34 L156.15 176.38 L156.20 173.74 L156.25 175.40 L156.30 174.65 L156.35 176.47 L156.40 173.73 L156.45 173.26 L156.50 174.06 L156.55 173.34 L156.60 177.59 L156.65 174.75 L156.70 177.02 L156.75 175.24 L156.80 176.81 L156.85 174.93 L156.90 173.49 L156.95 173.91 L157.00 174.79 L157.05 173.84 L157.10 176.03 L157.15 172.98 L157.20 174.74 L157.25 174.96 L157.30 176.84 L157.35 174.20 L157.40 176.54 L157.45 174.88 L157.50 175.50 L157.55 176.32 L157.60 175.11 L157.65 176.66 L157.70 176.09 L157.75 174.20 L157.80 175.70 L157.85 173.18 L157.90 173.52 L157.95 175.80 L158.00 173.37 L158.05 175.61 L158.10 172.74 L158.15 173.81 L158.20 172.69 L158.25 174.60 L158.30 174.35 L158.35 172.83 L158.40 172.21 L158.45 174.71 L158.50 173.52 L158.55 173.30 L158.60 173.83 L158.65 171.16 L158.70 171.29 L158.75 174.06 L158.80 171.83 L158.85 172.78 L158.90 173.26 L158.95 173.29 L159.00 173.15 L159.05 172.72 L159.10 171.13 L159.15 172.14 L159.20 171.83 L159.25 171.06 L159.30 171.68 L159.35 170.74 L159.40 170.21 L159.45 170.84 L159.50 170.02 L159.55 170.94 L159.60 169.83 L159.65 169.98 L159.70 169.95 L159.75 169.59 L159.80 169.74 L159.85 169.49 L159.90 169.06 L159.95 168.87 L160.00 168.60 L160.05 168.30 L160.10 168.00 L160.15 167.70 L160.20 167.40 L160.25 167.10 L160.30 166.80 L160.35 166.50 L160.40 166.20 L160.45 165.90 L160.50 165.60 L160.55 165.30 L160.60 165.00 L160.65 164.00 L160.70 163.00 L160.75 162.00 L160.80 161.00 L160.85 160.00 L160.90 159.00 L160.95 158.00 L161.00 157.00 L161.05 156.00 L161.10 155.00 L161.15 151.67 L161.20 148.33 L161.25 145.00 L161.30 141.67 L161.35 138.33 L161.40 135.00 L161.45 130.75 L161.50 126.50 L161.55 122.25 L161.60 118.00 L161.65 116.00 L161.70 114.00 L161.75 112.00 L161.80 110.00 L161.85 109.74 L161.90 109.48 L161.95 109.22 L162.00 108.96 L162.05 108.70 L162.10 108.96 L162.15 109.22 L162.20 109.48 L162.25 109.74 L162.30 110.00 L162.35 111.33 L162.40 112.67 L162.45 114.00 L162.50 115.33 L162.55 116.67 L162.60 118.00 L162.65 120.00 L162.70 122.00 L162.75 124.00 L162.80 126.00 L162.85 128.00 L162.90 130.00 L162.95 131.40 L163.00 132.80 L163.05 134.20 L163.10 135.60 L163.15 137.00 L163.20 138.25 L163.25 139.50 L163.30 140.75 L163.35 142.00 L163.40 144.67 L163.45 147.33 L163.50 150.00 L163.55 152.50 L163.60 155.00 L163.65 157.50 L163.70 160.00 L163.75 161.33 L163.80 162.67 L163.85 164.00 L163.90 165.33 L163.95 166.67 L164.00 168.00 L164.05 168.50 L164.10 169.03 L164.15 169.52 L164.20 169.60 L164.25 169.68 L164.30 171.23 L164.35 171.94 L164.40 173.25 L164.45 172.95 L164.50 174.35 L164.55 172.42 L164.60 172.10 L164.65 171.63 L164.70 174.78 L164.75 172.57 L164.80 174.42 L164.85 174.24 L164.90 174.66 L164.95 174.02 L165.00 172.33 L165.05 175.96 L165.10 176.55 L165.15 172.95 L165.20 177.18 L165.25 175.80 L165.30 176.45 L165.35 176.76 L165.40 176.39 L165.45 174.98 L165.50 176.27 L165.55 173.56 L165.60 175.09 L165.65 175.20 L165.70 173.29 L165.75 176.58 L165.80 176.45 L165.85 174.63 L165.90 173.79 L165.95 173.19 L166.00 176.79 L166.25 173.63 L166.50 173.13 L166.75 174.70 L167.00 177.43 L167.25 173.30 L167.50 174.01 L167.75 175.37 L168.00 176.06 L168.25 177.84 L168.50 175.75 L168.75 176.58 L169.00 178.90 L169.25 175.87 L169.50 175.29 L169.75 178.92 L170.00 178.67 L170.25 180.31 L170.50 178.90 L170.75 178.58 L171.00 175.90 L171.25 176.46 L171.50 177.02 L171.75 179.29 L172.00 177.18 L172.25 175.88 L172.50 180.39 L172.75 177.69 L173.00 176.22 L173.25 180.04 L173.50 179.76 L173.75 177.53 L174.00 176.48 L174.25 179.27 L174.50 176.14 L174.75 179.68 L175.00 178.49 L175.25 180.56 L175.50 177.98 L175.75 180.50 L176.00 179.31 L176.25 178.19 L176.50 179.93 L176.75 178.67 L177.00 178.58 L177.25 177.75 L177.50 179.39 L177.75 178.78 L178.00 178.63 L178.25 177.09 L178.50 181.42 L178.75 178.51 L179.00 181.92 L179.25 178.19 L179.50 177.29 L179.75 181.93 L180.00 180.59 L180.25 181.52 L180.50 179.73 L180.75 177.99 L181.00 181.84 L181.25 182.22 L181.50 179.99 L181.75 178.20 L182.00 179.40 L182.25 182.25 L182.50 177.88 L182.75 179.77 L183.00 178.89 L183.25 181.55 L183.50 181.94 L183.75 180.29 L184.00 181.46 L184.25 183.24 L184.50 179.81 L184.75 181.13 L185.00 182.67 L185.25 179.11 L185.50 182.20 L185.75 179.85 L186.00 179.30 L186.25 179.19 L186.50 180.80 L186.75 181.66 L187.00 180.00 L187.25 181.09 L187.50 178.48 L187.75 181.80 L188.00 181.16 L188.25 179.26 L188.50 181.77 L188.75 182.01 L189.00 181.09 L189.25 181.76 L189.50 182.10 L189.75 181.59 L190.00 178.92 L190.25 179.34 L190.50 180.99 L190.75 182.61 L191.00 183.51 L191.25 182.25 L191.50 182.19 L191.75 183.30 L192.00 181.53 L192.25 184.65 L192.50 182.53 L192.75 181.87 L193.00 184.74 L193.25 181.84 L193.50 183.31 L193.75 182.08 L194.00 184.90 L194.25 183.58 L194.50 180.74 L194.75 184.31 L195.00 181.73 L195.25 183.61 L195.50 184.08 L195.75 184.39 L196.00 185.11 L196.25 184.28 L196.50 185.22 L196.75 182.17 L197.00 184.89 L197.25 185.15 L197.50 186.29 L197.75 184.03 L198.00 182.74 L198.25 185.07 L198.50 184.41 L198.75 185.46 L199.00 182.97 L199.25 183.23 L199.50 185.61 L199.75 186.51 L200.00 185.90 L200.25 184.50 L200.50 186.17 L200.75 187.42 L201.00 187.08 L201.25 186.80 L201.50 185.27 L201.75 187.40 L202.00 184.60 L202.25 187.56 L202.50 183.49 L202.75 183.09 L203.00 184.05 L203.25 186.13 L203.50 187.71 L203.75 184.10 L204.00 186.11 L204.25 183.88 L204.50 185.48 L204.75 187.53 L205.00 187.57 L205.25 188.13 L205.50 186.44 L205.75 184.11 L206.00 187.14 L206.25 187.57 L206.50 185.51 L206.75 188.53 L207.00 187.83 L207.25 186.81 L207.50 184.36 L207.75 184.41 L208.00 187.10 L208.25 187.22 L208.50 187.77 L208.75 187.78 L209.00 188.57 L209.25 187.94 L209.50 186.07 L209.75 186.72 L210.00 186.62 L210.25 186.48 L210.50 189.52 L210.75 185.89 L211.00 185.81 L211.25 187.64 L211.50 185.97 L211.75 186.86 L212.00 188.26 L212.25 189.65 L212.50 189.96 L212.75 188.20 L213.00 190.16 L213.25 188.13 L213.50 187.25 L213.75 188.83 L214.00 190.15 L214.25 186.56 L214.50 189.36 L214.75 186.94 L215.00 189.35 L215.25 191.59 L215.50 189.74 L215.75 189.69 L216.00 189.06 L216.25 189.97 L216.50 189.32 L216.75 188.71 L217.00 188.20 L217.25 187.26 L217.50 190.22 L217.75 187.16 L218.00 189.26 L218.25 188.95 L218.50 189.83 L218.75 189.46 L219.00 189.10 L219.25 188.55 L219.50 192.23 L219.75 188.43 L220.00 189.38 L220.25 187.68 L220.50 188.95 L220.75 190.37 L221.00 189.12 L221.25 188.56 L221.50 191.70 L221.75 190.06 L222.00 190.86 L222.25 190.31 L222.50 189.43 L222.75 191.65 L223.00 187.67 L223.25 190.15 L223.50 188.31 L223.75 192.21 L224.00 191.13 L224.25 191.70 L224.50 192.62 L224.75 193.07 L225.00 192.83 L225.25 192.56 L225.50 193.18 L225.75 193.23 L226.00 192.76 L226.25 190.54 L226.50 191.53 L226.75 190.60 L227.00 192.07 L227.25 192.48 L227.50 190.09 L227.75 190.45 L228.00 191.54 L228.25 188.94 L228.50 192.32 L228.75 189.49 L229.00 190.28 L229.25 191.76 L229.50 192.45 L229.75 190.49 L230.00 191.32 L230.25 189.75 L230.50 188.85 L230.75 190.34 L231.00 189.90 L231.25 191.33 L231.50 188.01 L231.75 188.71 L232.00 188.25 L232.25 190.48 L232.50 190.54 L232.75 192.73 L233.00 189.69 L233.25 191.94 L233.50 192.34 L233.75 192.52 L234.00 190.13 L234.25 192.60 L234.50 192.31 L234.75 192.00 L235.00 190.83 L235.25 191.24 L235.50 190.78 L235.75 192.44 L236.00 193.19 L236.25 189.89 L236.50 192.42 L236.75 188.92 L237.00 188.52 L237.25 191.82 L237.50 189.49 L237.75 188.69 L238.00 189.62 L238.25 193.48 L238.50 189.52 L238.75 190.74 L239.00 193.41 L239.25 188.94 L239.50 193.12 L239.75 189.59 L240.00 192.16 L240.25 189.10 L240.50 189.11 L240.75 190.33 L241.00 189.93 L241.25 190.80 L241.50 191.17 L241.75 189.32 L242.00 192.04 L242.25 193.89 L242.50 193.16 L242.75 192.94 L243.00 192.34 L243.25 190.21 L243.50 191.28 L243.75 192.76 L244.00 191.31 L244.25 191.56 L244.50 191.68 L244.75 193.15 L245.00 192.57 L245.25 190.31 L245.50 193.13 L245.75 191.51 L246.00 190.11 L246.25 191.82 L246.50 193.31 L246.75 192.12 L247.00 191.56 L247.25 189.70 L247.50 190.84 L247.75 193.72 L248.00 189.76 L248.25 193.58 L248.50 190.75 L248.75 192.98 L249.00 193.84 L249.25 193.55 L249.50 192.67 L249.75 192.37 L250.00 191.47 L250.25 193.15 L250.50 192.93 L250.75 192.85 L251.00 190.74 L251.25 189.47 L251.50 189.61 L251.75 189.76 L252.00 191.04 L252.25 192.23 L252.50 193.32 L252.75 190.92 L253.00 193.59 L253.25 190.33 L253.50 193.65 L253.75 193.40 L254.00 190.96 L254.25 191.58 L254.50 191.94 L254.75 191.48 L255.00 194.81 L255.25 191.06 L255.50 192.19 L255.75 191.39 L256.00 193.84 L256.25 193.80 L256.50 192.91 L256.75 191.92 L257.00 189.97 L257.25 191.37 L257.50 189.57 L257.75 191.69 L258.00 192.02 L258.25 191.72 L258.50 190.74 L258.75 191.64 L259.00 189.36 L259.25 190.12 L259.50 193.54 L259.75 189.73 L260.00 189.12 L260.25 192.14 L260.50 192.51 L260.75 190.37 L261.00 191.81 L261.25 193.93 L261.50 193.50 L261.75 190.64 L262.00 192.64 L262.05 191.63 L262.10 190.80 L262.15 192.19 L262.20 189.55 L262.25 189.62 L262.30 189.91 L262.35 192.08 L262.40 189.63 L262.45 189.05 L262.50 191.81 L262.55 188.86 L262.60 189.33 L262.65 192.15 L262.70 190.55 L262.75 188.48 L262.80 190.91 L262.85 190.32 L262.90 190.17 L262.95 189.97 L263.00 191.68 L263.05 189.35 L263.10 191.96 L263.15 191.34 L263.20 188.99 L263.25 192.58 L263.30 191.23 L263.35 189.87 L263.40 189.79 L263.45 191.50 L263.50 189.95 L263.55 189.35 L263.60 191.67 L263.65 190.04 L263.70 189.56 L263.75 190.02 L263.80 188.32 L263.85 187.64 L263.90 189.02 L263.95 189.68 L264.00 188.11 L264.05 187.67 L264.10 187.97 L264.15 187.46 L264.20 187.76 L264.25 188.60 L264.30 188.34 L264.35 187.43 L264.40 186.74 L264.45 186.68 L264.50 186.83 L264.55 186.45 L264.60 186.09 L264.65 185.73 L264.70 185.50 L264.75 185.25 L264.80 185.00 L264.85 183.33 L264.90 181.67 L264.95 180.00 L265.00 178.33 L265.05 176.67 L265.10 175.00 L265.15 171.25 L265.20 167.50 L265.25 163.75 L265.30 160.00 L265.35 156.67 L265.40 153.33 L265.45 150.00 L265.50 146.67 L265.55 143.33 L265.60 140.00 L265.65 137.50 L265.70 135.00 L265.75 132.50 L265.80 130.00 L265.85 127.50 L265.90 125.00 L265.95 122.50 L266.00 120.00 L266.05 115.00 L266.10 110.00 L266.15 105.00 L266.20 100.00 L266.25 95.00 L266.30 90.00 L266.35 82.50 L266.40 75.00 L266.45 67.50 L266.50 60.00 L266.55 57.00 L266.60 54.00 L266.65 51.00 L266.70 48.00 L266.75 45.00 L266.80 42.00 L266.85 40.50 L266.90 39.00 L266.95 37.50 L267.00 36.00 L267.05 34.50 L267.10 33.00 L267.15 31.50 L267.20 30.00 L267.25 29.41 L267.30 28.82 L267.35 28.24 L267.40 27.65 L267.45 27.06 L267.50 26.48 L267.55 25.89 L267.60 25.30 L267.65 25.92 L267.70 26.53 L267.75 27.15 L267.80 27.77 L267.85 28.38 L267.90 29.00 L267.95 29.67 L268.00 30.33 L268.05 31.00 L268.10 31.67 L268.15 32.33 L268.20 33.00 L268.25 33.67 L268.30 34.33 L268.35 35.00 L268.40 35.67 L268.45 36.33 L268.50 37.00 L268.55 39.75 L268.60 42.50 L268.65 45.25 L268.70 48.00 L268.75 53.50 L268.80 59.00 L268.85 64.50 L268.90 70.00 L268.95 80.00 L269.00 90.00 L269.05 100.00 L269.10 110.00 L269.15 118.75 L269.20 127.50 L269.25 136.25 L269.30 145.00 L269.35 150.00 L269.40 155.00 L269.45 160.00 L269.50 165.00 L269.55 167.17 L269.60 169.33 L269.65 171.50 L269.70 173.67 L269.75 175.83 L269.80 178.00 L269.85 178.70 L269.90 179.40 L269.95 180.10 L270.00 180.80 L270.05 181.50 L270.10 182.20 L270.15 182.90 L270.20 183.60 L270.25 184.30 L270.30 185.00 L270.35 185.29 L270.40 185.57 L270.45 185.86 L270.50 186.07 L270.55 186.52 L270.60 186.62 L270.65 187.20 L270.70 186.78 L270.75 187.81 L270.80 186.94 L270.85 188.47 L270.90 187.60 L270.95 188.54 L271.00 189.28 L271.05 188.89 L271.10 190.05 L271.15 189.65 L271.20 189.82 L271.25 191.00 L271.30 190.14 L271.35 191.49 L271.40 191.71 L271.45 190.69 L271.50 189.76 L271.55 191.41 L271.60 191.10 L271.65 191.66 L271.70 190.89 L271.75 192.48 L271.80 191.08 L271.85 192.35 L271.90 190.61 L271.95 190.06 L272.00 192.31 L272.05 189.26 L272.10 190.19 L272.15 192.68 L272.20 193.77 L272.25 191.86 L272.30 192.95 L272.35 191.63 L272.40 191.37 L272.45 193.54 L272.50 190.48 L272.75 192.47 L273.00 193.46 L273.25 191.47 L273.50 194.29 L273.75 191.31 L274.00 191.15 L274.25 189.96 L274.50 190.55 L274.75 193.11 L275.00 191.56 L275.25 191.61 L275.50 192.45 L275.75 191.55 L276.00 192.61 L276.25 193.12 L276.50 190.96 L276.75 192.44 L277.00 191.42 L277.25 190.42 L277.50 193.83 L277.75 195.17 L278.00 194.46 L278.25 192.75 L278.50 191.51 L278.75 195.30 L279.00 193.33 L279.25 194.75 L279.50 192.00 L279.75 193.80 L280.00 194.57 L280.25 194.51 L280.50 192.88 L280.75 196.23 L281.00 195.01 L281.25 192.95 L281.50 192.80 L281.75 195.54 L282.00 193.24 L282.25 193.39 L282.50 194.93 L282.75 193.48 L283.00 193.09 L283.25 193.78 L283.50 193.48 L283.75 193.49 L284.00 195.68 L284.25 192.18 L284.50 194.08 L284.75 195.13 L285.00 193.85 L285.25 191.63 L285.50 191.22 L285.75 195.01 L286.00 194.49 L286.25 194.16 L286.50 193.07 L286.75 193.27 L287.00 193.64 L287.25 193.34 L287.50 194.91 L287.75 192.63 L288.00 193.72 L288.25 194.87 L288.50 194.30 L288.75 193.05 L289.00 192.44 L289.25 194.78 L289.50 196.58 L289.75 195.21 L290.00 196.39 L290.25 195.28 L290.50 195.62 L290.75 197.30 L291.00 196.57 L291.25 195.70 L291.50 196.53 L291.75 194.89 L292.00 192.59 L292.25 192.95 L292.50 194.69 L292.75 192.47 L293.00 192.61 L293.25 194.54 L293.50 193.92 L293.75 192.79 L294.00 196.91 L294.25 195.41 L294.50 197.62 L294.75 197.29 L295.00 195.11 L295.25 194.45 L295.50 194.51 L295.75 197.57 L296.00 196.30 L296.25 194.70 L296.50 196.07 L296.75 196.35 L297.00 194.72 L297.25 193.06 L297.50 196.99 L297.75 195.15 L298.00 196.01 L298.25 193.21 L298.50 195.00 L298.75 194.25 L299.00 193.69 L299.25 197.54 L299.50 193.21 L299.75 197.24 L300.00 194.59 L300.25 198.29 L300.50 195.54 L300.75 193.14 L301.00 193.63 L301.25 194.08 L301.50 196.48 L301.75 194.17 L302.00 196.67 L302.25 193.69 L302.50 196.25 L302.75 192.74 L303.00 195.60 L303.25 194.77 L303.50 197.32 L303.75 193.46 L304.00 194.24 L304.25 196.41 L304.50 193.20 L304.75 194.00 L305.00 197.46 L305.25 197.08 L305.50 196.32 L305.75 197.17 L306.00 195.42 L306.25 195.35 L306.50 194.16 L306.75 198.71 L307.00 195.75 L307.25 197.28 L307.50 196.83 L307.75 196.86 L308.00 194.38 L308.25 196.66 L308.50 194.56 L308.75 194.67 L309.00 196.37 L309.25 197.86 L309.50 194.70 L309.75 194.73 L310.00 196.56 L310.25 193.10 L310.50 195.37 L310.75 197.96 L311.00 196.13 L311.25 194.14 L311.50 195.17 L311.75 194.67 L312.00 197.38 L312.25 197.51 L312.50 194.84 L312.75 198.09 L313.00 195.71 L313.25 194.06 L313.50 197.27 L313.75 194.79 L314.00 198.77 L314.25 197.43 L314.50 196.74 L314.75 196.89 L315.00 195.27 L315.25 197.05 L315.50 196.48 L315.75 195.09 L316.00 193.29 L316.25 193.68 L316.50 195.84 L316.75 196.87 L317.00 194.49 L317.25 194.80 L317.50 193.78 L317.75 193.44 L318.00 194.65 L318.25 197.11 L318.50 195.81 L318.75 195.36 L319.00 197.61 L319.25 196.38 L319.50 197.36 L319.75 198.28 L320.00 197.26 L320.25 196.20 L320.50 194.12 L320.75 194.33 L321.00 197.66 L321.25 194.26 L321.50 196.62 L321.75 194.61 L322.00 197.86 L322.25 197.51 L322.50 195.50 L322.75 197.66 L323.00 196.74 L323.25 195.73 L323.50 196.89 L323.75 198.78 L324.00 194.79 L324.25 197.84 L324.50 194.00 L324.75 194.33 L325.00 194.43 L325.25 196.01 L325.50 198.38 L325.75 194.63 L326.00 194.50 L326.25 196.22 L326.50 194.63 L326.75 196.50 L327.00 195.21 L327.25 194.18 L327.50 195.58 L327.75 194.90 L328.00 198.23 L328.25 195.72 L328.50 195.55 L328.75 194.31 L329.00 196.68 L329.25 194.00 L329.50 197.41 L329.75 198.46 L330.00 198.20 L330.25 198.82 L330.50 197.58 L330.75 195.73 L331.00 198.85 L331.25 197.07 L331.50 199.26 L331.75 198.69 L332.00 196.07 L332.25 199.07 L332.50 198.70 L332.75 198.53 L333.00 198.49 L333.25 198.04 L333.50 196.83 L333.75 197.44 L334.00 195.77 L334.25 198.20 L334.50 197.73 L334.75 196.06 L335.00 196.04 L335.25 197.18 L335.50 195.79 L335.75 197.77 L336.00 195.39 L336.25 194.75 L336.50 194.78 L336.75 196.56 L337.00 195.80 L337.25 197.36 L337.50 194.51 L337.75 198.07 L338.00 195.83 L338.25 198.00 L338.50 198.37 L338.75 197.11 L339.00 198.23 L339.25 197.38 L339.50 197.94 L339.75 198.90 L340.00 194.67 L340.25 198.17 L340.50 197.85 L340.75 197.92 L341.00 195.42 L341.25 194.92 L341.50 196.15 L341.75 196.93 L342.00 196.37 L342.25 196.06 L342.50 195.54 L342.75 196.96 L343.00 194.91 L343.25 197.90 L343.50 197.67 L343.75 197.86 L344.00 195.60 L344.25 194.66 L344.50 196.53 L344.75 198.07 L345.00 195.64 L345.25 196.97 L345.50 194.29 L345.75 194.07 L346.00 195.98 L346.25 197.07 L346.50 197.85 L346.75 195.83 L347.00 195.32 L347.25 198.56 L347.50 197.70 L347.75 196.07 L348.00 197.40 L348.25 196.41 L348.50 198.55 L348.75 197.03 L349.00 197.52 L349.25 198.36 L349.50 197.70 L349.75 196.69 L350.00 196.25 L350.25 196.74 L350.50 194.85 L350.75 195.84 L351.00 197.11 L351.25 195.44 L351.50 196.34 L351.75 197.85 L352.00 197.71 L352.25 197.99 L352.50 195.06 L352.75 197.42 L353.00 194.90 L353.25 195.32 L353.50 198.37 L353.75 197.52 L354.00 196.75 L354.25 196.79 L354.50 198.17 L354.75 194.86 L355.00 196.89 L355.25 196.61 L355.50 195.64 L355.75 197.61 L356.00 198.52" stroke="#ff0000" stroke-width="1.25"/>
<path d="M31.00 167.98 L31.25 167.96 L31.50 167.92 L31.75 167.47 L32.00 167.31 L32.25 167.99 L32.50 167.72 L32.75 167.22 L33.00 167.93 L33.25 167.98 L33.50 167.41 L33.75 167.82 L34.00 167.23 L34.25 167.50 L34.50 167.79 L34.75 167.46 L35.00 167.53 L35.25 167.20 L35.50 167.75 L35.75 167.48 L36.00 167.28 L36.25 167.69 L36.50 167.84 L36.75 167.47 L37.00 167.62 L37.25 167.81 L37.50 167.04 L37.75 167.48 L38.00 167.76 L38.25 167.07 L38.50 167.15 L38.75 167.40 L39.00 167.52 L39.25 167.38 L39.50 167.36 L39.75 166.96 L40.00 167.49 L40.25 167.15 L40.50 166.94 L40.75 167.63 L41.00 167.38 L41.25 167.21 L41.50 167.42 L41.75 167.21 L42.00 166.92 L42.25 167.29 L42.50 167.39 L42.75 167.37 L43.00 167.21 L43.25 167.50 L43.50 167.50 L43.75 167.43 L44.00 167.02 L44.25 166.93 L44.50 167.12 L44.75 167.21 L45.00 166.81 L45.25 167.11 L45.50 167.01 L45.75 166.65 L46.00 166.97 L46.25 166.94 L46.50 167.37 L46.75 166.64 L47.00 167.32 L47.25 167.29 L47.50 167.04 L47.75 166.70 L48.00 167.16 L48.25 166.66 L48.50 166.77 L48.75 167.03 L49.00 166.83 L49.25 166.84 L49.50 166.71 L49.75 166.48 L50.00 166.72 L50.25 167.07 L50.50 167.05 L50.75 166.44 L51.00 166.79 L51.25 166.61 L51.50 166.63 L51.75 167.06 L52.00 166.90 L52.25 166.64 L52.50 166.62 L52.75 166.91 L53.00 166.47 L53.25 166.76 L53.50 166.69 L53.75 166.67 L54.00 166.43 L54.25 166.57 L54.50 166.66 L54.75 166.22 L55.00 166.54 L55.25 166.29 L55.50 166.30 L55.75 166.21 L56.00 166.10 L56.25 166.33 L56.50 166.03 L56.75 165.83 L57.00 166.19 L57.25 165.87 L57.50 165.93 L57.75 166.12 L58.00 165.82 L58.25 165.64 L58.30 165.47 L58.35 165.70 L58.40 165.82 L58.45 165.65 L58.50 165.66 L58.55 165.37 L58.60 165.34 L58.65 165.34 L58.70 165.37 L58.75 165.56 L58.80 165.30 L58.85 165.11 L58.90 165.25 L58.95 165.08 L59.00 165.22 L59.05 165.03 L59.10 165.27 L59.15 164.98 L59.20 164.99 L59.25 164.94 L59.30 164.81 L59.35 164.96 L59.40 164.55 L59.45 164.73 L59.50 164.49 L59.55 164.35 L59.60 164.31 L59.65 164.37 L59.70 164.30 L59.75 164.16 L59.80 163.95 L59.85 163.87 L59.90 163.69 L59.95 163.59 L60.00 163.43 L60.05 163.27 L60.10 163.09 L60.15 162.90 L60.20 162.68 L60.25 162.44 L60.30 162.18 L60.35 161.90 L60.40 161.58 L60.45 161.22 L60.50 160.82 L60.55 160.36 L60.60 159.84 L60.65 159.23 L60.70 158.53 L60.75 157.70 L60.80 156.71 L60.85 155.53 L60.90 154.12 L60.95 152.42 L61.00 150.37 L61.05 147.92 L61.10 144.98 L61.15 141.50 L61.20 137.40 L61.25 132.62 L61.30 127.08 L61.35 120.76 L61.40 113.63 L61.45 105.74 L61.50 97.25 L61.55 88.51 L61.60 80.12 L61.65 72.94 L61.70 68.04 L61.75 66.28 L61.80 68.03 L61.85 72.94 L61.90 80.11 L61.95 88.50 L62.00 97.24 L62.05 105.72 L62.10 113.61 L62.15 120.74 L62.20 127.06 L62.25 132.59 L62.30 137.38 L62.35 141.47 L62.40 144.95 L62.45 147.88 L62.50 150.33 L62.55 152.38 L62.60 154.08 L62.65 155.49 L62.70 156.67 L62.75 157.65 L62.80 158.48 L62.85 159.18 L62.90 159.78 L62.95 160.30 L63.00 160.75 L63.05 161.15 L63.10 161.51 L63.15 161.83 L63.20 162.11 L63.25 162.37 L63.30 162.60 L63.35 162.82 L63.40 163.01 L63.45 163.19 L63.50 163.35 L63.55 163.50 L63.60 163.64 L63.65 163.72 L63.70 163.88 L63.75 163.92 L63.80 164.11 L63.85 164.21 L63.90 164.26 L63.95 164.37 L64.00 164.48 L64.05 164.53 L64.10 164.48 L64.15 164.55 L64.20 164.63 L64.25 164.98 L64.30 164.83 L64.35 164.97 L64.40 164.79 L64.45 164.98 L64.50 164.99 L64.55 164.91 L64.60 164.95 L64.65 165.00 L64.70 165.29 L64.75 165.33 L64.80 165.43 L64.85 165.17 L64.90 165.30 L64.95 165.44 L65.00 165.37 L65.05 165.57 L65.10 165.11 L65.15 165.53 L65.20 165.21 L65.25 165.46 L65.50 165.47 L65.75 165.58 L66.00 165.85 L66.25 165.44 L66.50 165.45 L66.75 166.10 L67.00 165.81 L67.25 165.78 L67.50 165.61 L67.75 165.88 L68.00 166.02 L68.25 166.20 L68.50 165.83 L68.75 165.64 L69.00 166.12 L69.25 165.79 L69.50 166.10 L69.75 166.17 L70.00 166.30 L70.25 165.69 L70.50 165.77 L70.75 165.86 L71.00 166.19 L71.25 165.90 L71.50 165.90 L71.75 166.21 L72.00 165.65 L72.25 165.64 L72.50 165.62 L72.75 165.95 L73.00 165.71 L73.25 165.82 L73.50 165.92 L73.75 165.95 L74.00 165.84 L74.25 165.64 L74.50 166.17 L74.75 166.20 L75.00 165.96 L75.25 165.74 L75.50 166.29 L75.75 165.60 L76.00 166.19 L76.25 165.99 L76.50 165.69 L76.75 165.95 L77.00 165.91 L77.25 165.48 L77.50 165.84 L77.75 166.08 L78.00 165.96 L78.25 165.56 L78.50 165.62 L78.75 165.99 L79.00 165.46 L79.25 165.98 L79.50 165.85 L79.75 165.73 L80.00 165.75 L80.25 165.79 L80.50 165.48 L80.75 166.14 L81.00 165.73 L81.25 165.92 L81.50 165.47 L81.75 166.08 L82.00 165.93 L82.25 165.57 L82.50 166.08 L82.75 166.05 L83.00 165.72 L83.25 165.57 L83.50 166.00 L83.75 165.34 L84.00 166.08 L84.25 166.09 L84.50 165.38 L84.75 166.06 L85.00 165.53 L85.25 165.95 L85.50 165.98 L85.75 165.43 L86.00 165.55 L86.25 166.04 L86.50 165.90 L86.75 165.82 L87.00 165.45 L87.25 165.84 L87.50 165.28 L87.75 165.45 L88.00 165.44 L88.25 165.28 L88.50 165.60 L88.75 165.25 L89.00 166.00 L89.25 165.60 L89.50 165.82 L89.75 165.62 L90.00 165.29 L90.25 165.54 L90.50 165.17 L90.75 165.39 L91.00 165.65 L91.25 165.27 L91.50 165.85 L91.75 165.61 L92.00 165.11 L92.25 165.42 L92.50 165.78 L92.75 165.26 L93.00 165.14 L93.25 165.25 L93.50 165.40 L93.75 165.32 L94.00 165.19 L94.25 165.35 L94.50 165.35 L94.75 165.51 L95.00 165.74 L95.25 165.44 L95.50 164.98 L95.75 165.03 L96.00 165.13 L96.25 165.63 L96.50 164.92 L96.75 165.38 L97.00 165.17 L97.25 165.03 L97.50 165.33 L97.75 165.41 L98.00 165.41 L98.25 164.95 L98.50 164.92 L98.75 164.91 L99.00 164.92 L99.25 164.90 L99.50 165.14 L99.75 164.96 L100.00 165.19 L100.25 165.46 L100.50 165.30 L100.75 164.73 L101.00 165.40 L101.25 164.94 L101.50 164.76 L101.75 164.80 L102.00 164.64 L102.25 164.81 L102.50 164.94 L102.75 164.64 L103.00 165.32 L103.25 164.87 L103.50 164.95 L103.75 164.76 L104.00 165.22 L104.25 165.17 L104.50 164.86 L104.75 164.46 L105.00 164.97 L105.25 164.70 L105.50 164.53 L105.75 164.78 L106.00 164.98 L106.25 164.92 L106.50 164.47 L106.75 165.12 L107.00 164.77 L107.25 165.11 L107.50 164.71 L107.75 165.10 L108.00 165.04 L108.25 164.40 L108.50 165.07 L108.75 164.91 L109.00 164.82 L109.25 164.36 L109.50 164.86 L109.75 164.86 L110.00 165.04 L110.25 164.66 L110.50 164.39 L110.75 164.93 L111.00 164.63 L111.25 164.59 L111.50 164.87 L111.75 164.36 L112.00 164.35 L112.25 165.10 L112.50 165.01 L112.75 164.95 L113.00 164.70 L113.25 164.62 L113.50 164.45 L113.75 164.33 L114.00 164.93 L114.25 164.50 L114.50 164.89 L114.75 164.34 L115.00 164.48 L115.25 164.62 L115.50 164.58 L115.75 164.44 L116.00 164.89 L116.25 164.33 L116.50 164.75 L116.75 164.71 L117.00 164.68 L117.25 164.40 L117.50 164.77 L117.75 164.82 L118.00 164.70 L118.25 164.71 L118.50 164.68 L118.75 164.59 L119.00 164.70 L119.25 164.64 L119.50 164.46 L119.75 164.90 L120.00 164.50 L120.25 164.30 L120.50 164.72 L120.75 164.90 L121.00 164.30 L121.25 164.23 L121.50 164.46 L121.75 164.42 L122.00 164.32 L122.25 164.42 L122.50 164.53 L122.75 164.37 L123.00 164.61 L123.25 164.51 L123.50 164.49 L123.75 164.26 L124.00 164.78 L124.25 164.67 L124.50 164.61 L124.75 164.41 L125.00 164.96 L125.25 164.74 L125.50 164.82 L125.75 164.60 L126.00 164.64 L126.25 164.70 L126.50 164.37 L126.75 164.34 L127.00 164.75 L127.25 164.38 L127.50 164.15 L127.75 164.50 L128.00 164.81 L128.25 164.46 L128.50 164.57 L128.75 164.83 L129.00 164.23 L129.25 164.25 L129.50 164.12 L129.75 164.39 L130.00 164.20 L130.25 164.55 L130.50 164.36 L130.75 164.16 L131.00 164.67 L131.25 164.69 L131.50 164.81 L131.75 164.36 L132.00 164.51 L132.25 164.58 L132.50 164.77 L132.75 164.82 L133.00 164.33 L133.25 164.23 L133.50 164.28 L133.75 164.26 L134.00 164.67 L134.25 164.54 L134.50 164.14 L134.75 164.54 L135.00 164.57 L135.25 164.43 L135.50 164.62 L135.75 164.08 L136.00 164.57 L136.25 164.07 L136.50 164.70 L136.75 164.44 L137.00 164.68 L137.25 164.12 L137.50 164.16 L137.75 164.67 L138.00 164.07 L138.25 164.25 L138.50 164.62 L138.75 164.67 L139.00 164.10 L139.25 164.04 L139.50 164.48 L139.75 164.15 L140.00 164.21 L140.25 164.01 L140.50 164.25 L140.75 164.61 L141.00 164.42 L141.25 163.98 L141.50 164.01 L141.75 164.66 L142.00 164.45 L142.25 164.09 L142.50 164.44 L142.75 164.58 L143.00 164.60 L143.25 164.45 L143.50 164.04 L143.75 164.61 L144.00 164.46 L144.25 164.58 L144.50 164.30 L144.75 164.61 L145.00 164.55 L145.25 164.17 L145.50 164.03 L145.75 164.40 L146.00 164.06 L146.25 164.18 L146.50 164.09 L146.75 164.22 L147.00 164.19 L147.25 164.47 L147.50 164.40 L147.75 164.05 L148.00 164.44 L148.25 164.53 L148.50 164.29 L148.75 163.96 L149.00 164.57 L149.25 164.51 L149.50 163.99 L149.75 164.16 L150.00 164.55 L150.25 164.45 L150.50 164.06 L150.75 164.22 L151.00 163.99 L151.25 164.67 L151.50 164.59 L151.75 164.16 L152.00 164.30 L152.25 164.56 L152.50 164.40 L152.75 164.05 L153.00 164.60 L153.25 164.55 L153.50 164.00 L153.75 164.67 L154.00 164.37 L154.25 164.46 L154.50 164.54 L154.75 164.71 L155.00 164.40 L155.25 164.22 L155.50 164.36 L155.75 164.75 L156.00 164.57 L156.25 164.52 L156.50 164.54 L156.75 164.51 L157.00 164.88 L157.25 164.91 L157.50 164.44 L157.75 164.19 L158.00 164.15 L158.05 164.20 L158.10 164.30 L158.15 164.47 L158.20 164.44 L158.25 164.29 L158.30 164.59 L158.35 163.99 L158.40 164.18 L158.45 164.44 L158.50 164.33 L158.55 164.22 L158.60 164.30 L158.65 163.82 L158.70 164.27 L158.75 164.12 L158.80 164.32 L158.85 163.86 L158.90 163.99 L158.95 164.33 L159.00 163.89 L159.05 164.11 L159.10 164.23 L159.15 163.98 L159.20 163.94 L159.25 163.92 L159.30 163.75 L159.35 163.88 L159.40 163.98 L159.45 163.83 L159.50 163.72 L159.55 163.74 L159.60 163.55 L159.65 163.49 L159.70 163.97 L159.75 163.65 L159.80 163.82 L159.85 163.75 L159.90 163.52 L159.95 163.51 L160.00 163.64 L160.05 163.54 L160.10 163.58 L160.15 163.51 L160.20 163.43 L160.25 163.47 L160.30 163.36 L160.35 163.16 L160.40 163.33 L160.45 163.46 L160.50 163.35 L160.55 163.13 L160.60 163.19 L160.65 163.01 L160.70 163.18 L160.75 163.05 L160.80 163.09 L160.85 163.18 L160.90 163.03 L160.95 163.05 L161.00 162.78 L161.05 162.84 L161.10 162.89 L161.15 162.75 L161.20 162.81 L161.25 162.70 L161.30 162.67 L161.35 162.53 L161.40 162.60 L161.45 162.46 L161.50 162.41 L161.55 162.33 L161.60 162.29 L161.65 162.22 L161.70 162.25 L161.75 162.16 L161.80 162.10 L161.85 162.00 L161.90 161.95 L161.95 161.90 L162.00 161.84 L162.05 161.78 L162.10 161.72 L162.15 161.66 L162.20 161.60 L162.25 161.24 L162.30 160.88 L162.35 160.52 L162.40 160.16 L162.45 159.80 L162.50 159.44 L162.55 159.08 L162.60 158.72 L162.65 158.36 L162.70 158.00 L162.75 156.67 L162.80 155.33 L162.85 154.00 L162.90 152.67 L162.95 151.33 L163.00 150.00 L163.05 147.50 L163.10 145.00 L163.15 142.50 L163.20 140.00 L163.25 137.50 L163.30 135.00 L163.35 132.50 L163.40 130.00 L163.45 127.50 L163.50 125.00 L163.55 122.50 L163.60 120.00 L163.65 119.13 L163.70 118.27 L163.75 117.40 L163.80 116.53 L163.85 115.67 L163.90 114.80 L163.95 114.74 L164.00 114.68 L164.05 114.61 L164.10 114.55 L164.15 114.49 L164.20 114.43 L164.25 114.36 L164.30 114.30 L164.35 114.58 L164.40 114.87 L164.45 115.15 L164.50 115.43 L164.55 115.72 L164.60 116.00 L164.65 117.50 L164.70 119.00 L164.75 120.50 L164.80 122.00 L164.85 123.50 L164.90 125.00 L164.95 128.75 L165.00 132.50 L165.05 136.25 L165.10 140.00 L165.15 143.00 L165.20 146.00 L165.25 149.00 L165.30 152.00 L165.35 153.33 L165.40 154.67 L165.45 156.00 L165.50 157.33 L165.55 158.67 L165.60 160.00 L165.65 160.29 L165.70 160.58 L165.75 160.88 L165.80 161.17 L165.85 161.46 L165.90 161.75 L165.95 162.04 L166.00 162.35 L166.05 162.62 L166.10 162.92 L166.15 163.20 L166.20 163.41 L166.25 163.58 L166.30 163.47 L166.35 163.49 L166.40 163.73 L166.45 163.83 L166.50 163.63 L166.55 163.85 L166.60 163.72 L166.65 163.87 L166.70 164.08 L166.75 164.13 L166.80 164.06 L166.85 164.32 L166.90 164.39 L166.95 164.09 L167.00 164.55 L167.05 164.20 L167.10 164.64 L167.15 164.51 L167.20 164.77 L167.25 164.45 L167.30 164.82 L167.35 164.55 L167.40 164.83 L167.45 164.91 L167.50 165.02 L167.55 164.90 L167.60 164.78 L167.65 164.49 L167.70 165.01 L167.75 164.92 L167.80 164.61 L167.85 165.03 L167.90 164.82 L167.95 165.03 L168.00 164.90 L168.05 165.16 L168.10 165.12 L168.15 165.25 L168.20 165.26 L168.25 164.64 L168.30 165.10 L168.35 165.38 L168.40 164.69 L168.45 165.24 L168.50 164.90 L168.55 165.12 L168.60 164.78 L168.65 165.22 L168.70 165.38 L168.75 165.32 L168.80 165.30 L168.85 165.45 L168.90 165.22 L168.95 164.97 L169.00 165.22 L169.25 165.60 L169.50 165.22 L169.75 165.31 L170.00 165.65 L170.25 165.04 L170.50 165.03 L170.75 165.26 L171.00 165.66 L171.25 165.07 L171.50 165.41 L171.75 165.50 L172.00 165.00 L172.25 165.63 L172.50 165.58 L172.75 164.97 L173.00 165.31 L173.25 165.27 L173.50 165.52 L173.75 164.95 L174.00 165.20 L174.25 164.95 L174.50 165.32 L174.75 164.96 L175.00 165.54 L175.25 165.15 L175.50 164.89 L175.75 165.12 L176.00 165.31 L176.25 165.04 L176.50 164.98 L176.75 165.48 L177.00 165.31 L177.25 164.88 L177.50 165.40 L177.75 164.91 L178.00 165.47 L178.25 165.50 L178.50 165.05 L178.75 164.83 L179.00 165.25 L179.25 165.26 L179.50 165.07 L179.75 165.12 L180.00 164.82 L180.25 165.57 L180.50 164.90 L180.75 165.19 L181.00 165.04 L181.25 165.34 L181.50 165.04 L181.75 164.91 L182.00 165.28 L182.25 165.09 L182.50 165.42 L182.75 165.14 L183.00 165.64 L183.25 165.39 L183.50 165.34 L183.75 165.33 L184.00 165.42 L184.25 165.40 L184.50 165.40 L184.75 165.14 L185.00 165.62 L185.25 165.31 L185.50 165.21 L185.75 165.52 L186.00 165.55 L186.25 165.34 L186.50 165.62 L186.75 165.23 L187.00 165.11 L187.25 165.26 L187.50 165.70 L187.75 165.20 L188.00 165.64 L188.25 165.58 L188.50 165.60 L188.75 165.41 L189.00 165.49 L189.25 165.83 L189.50 165.49 L189.75 165.24 L190.00 165.57 L190.25 165.26 L190.50 165.34 L190.75 165.41 L191.00 165.64 L191.25 165.68 L191.50 165.58 L191.75 165.30 L192.00 165.38 L192.25 165.76 L192.50 165.31 L192.75 165.92 L193.00 165.79 L193.25 165.77 L193.50 166.06 L193.75 165.45 L194.00 165.84 L194.25 165.70 L194.50 165.99 L194.75 165.87 L195.00 165.85 L195.25 165.74 L195.50 166.13 L195.75 165.88 L196.00 165.61 L196.25 165.53 L196.50 166.22 L196.75 166.20 L197.00 166.01 L197.25 166.11 L197.50 166.27 L197.75 166.10 L198.00 165.77 L198.25 166.13 L198.50 166.03 L198.75 165.71 L199.00 166.01 L199.25 166.34 L199.50 166.34 L199.75 165.88 L200.00 166.34 L200.25 165.79 L200.50 165.88 L200.75 165.77 L201.00 165.89 L201.25 166.37 L201.50 165.77 L201.75 165.79 L202.00 165.88 L202.25 166.32 L202.50 165.87 L202.75 165.94 L203.00 166.03 L203.25 166.30 L203.50 165.94 L203.75 166.23 L204.00 166.31 L204.25 165.67 L204.50 166.37 L204.75 165.91 L205.00 166.08 L205.25 165.69 L205.50 166.41 L205.75 165.75 L206.00 166.44 L206.25 166.10 L206.50 166.27 L206.75 166.24 L207.00 165.73 L207.25 166.25 L207.50 165.89 L207.75 165.78 L208.00 166.45 L208.25 165.91 L208.50 166.42 L208.75 165.91 L209.00 166.32 L209.25 166.37 L209.50 166.02 L209.75 166.12 L210.00 166.46 L210.25 165.92 L210.50 165.79 L210.75 166.39 L211.00 166.49 L211.25 166.08 L211.50 165.93 L211.75 165.95 L212.00 166.19 L212.25 166.56 L212.50 166.42 L212.75 166.43 L213.00 166.10 L213.25 166.04 L213.50 166.34 L213.75 166.55 L214.00 166.34 L214.25 166.60 L214.50 166.17 L214.75 166.09 L215.00 165.87 L215.25 166.03 L215.50 166.41 L215.75 166.45 L216.00 166.02 L216.25 166.12 L216.50 165.93 L216.75 166.20 L217.00 166.16 L217.25 166.60 L217.50 166.50 L217.75 166.60 L218.00 165.97 L218.25 166.12 L218.50 166.57 L218.75 166.07 L219.00 166.16 L219.25 165.97 L219.50 165.91 L219.75 166.38 L220.00 166.20 L220.25 166.18 L220.50 166.23 L220.75 166.54 L221.00 165.99 L221.25 165.95 L221.50 165.99 L221.75 165.98 L222.00 166.47 L222.25 166.35 L222.50 166.02 L222.75 166.24 L223.00 166.02 L223.25 166.40 L223.50 166.57 L223.75 166.09 L224.00 166.67 L224.25 166.62 L224.50 166.79 L224.75 166.40 L225.00 166.43 L225.25 166.02 L225.50 166.73 L225.75 166.65 L226.00 166.53 L226.25 166.64 L226.50 166.21 L226.75 166.68 L227.00 166.60 L227.25 166.21 L227.50 166.65 L227.75 166.49 L228.00 166.63 L228.25 166.18 L228.50 166.74 L228.75 166.38 L229.00 166.76 L229.25 166.88 L229.50 166.12 L229.75 166.62 L230.00 166.12 L230.25 166.34 L230.50 166.88 L230.75 166.60 L231.00 166.65 L231.25 166.43 L231.50 166.33 L231.75 166.14 L232.00 166.54 L232.25 166.80 L232.50 166.39 L232.75 166.38 L233.00 166.60 L233.25 166.05 L233.50 166.49 L233.75 166.71 L234.00 166.06 L234.25 166.74 L234.50 166.59 L234.75 166.67 L235.00 166.01 L235.25 166.33 L235.50 166.51 L235.70 166.53 L235.75 166.08 L235.80 166.68 L235.85 165.99 L235.90 166.46 L235.95 166.63 L236.00 166.56 L236.05 166.61 L236.10 166.25 L236.15 166.60 L236.20 166.61 L236.25 166.37 L236.30 166.40 L236.35 165.93 L236.40 166.11 L236.45 166.67 L236.50 166.41 L236.55 166.63 L236.60 166.51 L236.65 166.40 L236.70 166.17 L236.75 166.31 L236.80 166.07 L236.85 166.03 L236.90 166.27 L236.95 166.25 L237.00 166.47 L237.05 166.42 L237.10 166.14 L237.15 166.04 L237.20 166.35 L237.25 165.98 L237.30 166.06 L237.35 166.21 L237.40 166.39 L237.45 166.10 L237.50 166.05 L237.55 166.29 L237.60 166.30 L237.65 166.17 L237.70 166.29 L237.75 166.01 L237.80 166.36 L237.85 166.10 L237.90 165.78 L237.95 165.73 L238.00 166.02 L238.05 165.52 L238.10 165.81 L238.15 165.85 L238.20 165.62 L238.25 165.89 L238.30 165.77 L238.35 165.52 L238.40 165.42 L238.45 165.45 L238.50 165.42 L238.55 165.42 L238.60 165.07 L238.65 165.02 L238.70 165.06 L238.75 165.09 L238.80 164.98 L238.85 165.08 L238.90 164.83 L238.95 164.75 L239.00 164.82 L239.05 164.92 L239.10 164.77 L239.15 164.71 L239.20 164.71 L239.25 164.49 L239.30 164.50 L239.35 164.73 L239.40 164.62 L239.45 164.87 L239.50 164.83 L239.55 164.98 L239.60 165.00 L239.65 164.93 L239.70 165.16 L239.75 164.98 L239.80 165.29 L239.85 165.21 L239.90 165.47 L239.95 165.35 L240.00 165.27 L240.05 165.66 L240.10 165.66 L240.15 165.76 L240.20 165.65 L240.25 165.90 L240.30 165.49 L240.35 165.74 L240.40 165.52 L240.45 166.00 L240.50 165.70 L240.55 165.85 L240.60 165.89 L240.65 165.87 L240.70 165.93 L240.75 166.07 L240.80 165.86 L240.85 165.92 L240.90 165.77 L240.95 165.80 L241.00 165.76 L241.05 165.96 L241.10 165.78 L241.15 165.84 L241.20 166.42 L241.25 166.17 L241.30 166.25 L241.35 166.35 L241.40 165.82 L241.45 165.97 L241.50 166.06 L241.55 166.40 L241.60 166.21 L241.65 166.32 L241.70 166.13 L241.75 165.95 L241.80 166.12 L241.85 165.90 L241.90 166.28 L241.95 166.20 L242.00 165.93 L242.05 166.19 L242.10 165.83 L242.15 166.33 L242.20 165.80 L242.25 166.08 L242.30 165.99 L242.35 165.74 L242.40 166.08 L242.45 165.68 L242.50 165.68 L242.55 165.88 L242.60 166.38 L242.65 165.68 L242.75 165.78 L243.00 165.85 L243.25 166.19 L243.50 166.12 L243.75 166.34 L244.00 165.99 L244.25 165.92 L244.50 166.34 L244.75 165.93 L245.00 165.74 L245.25 165.70 L245.50 165.70 L245.75 165.99 L246.00 165.85 L246.25 165.57 L246.50 165.85 L246.75 165.54 L247.00 166.08 L247.25 166.02 L247.50 166.08 L247.75 166.20 L248.00 166.02 L248.25 165.52 L248.50 165.55 L248.75 166.08 L249.00 165.78 L249.25 166.16 L249.50 165.47 L249.75 166.10 L250.00 165.44 L250.25 166.03 L250.50 165.66 L250.75 165.98 L251.00 165.47 L251.25 165.62 L251.50 166.03 L251.75 165.70 L252.00 165.58 L252.25 165.85 L252.50 166.09 L252.75 165.92 L253.00 165.60 L253.25 166.35 L253.50 165.60 L253.75 166.06 L254.00 165.97 L254.25 166.08 L254.50 166.29 L254.75 166.02 L255.00 165.71 L255.25 166.21 L255.50 165.87 L255.75 166.05 L256.00 165.82 L256.25 165.84 L256.50 166.07 L256.75 165.97 L257.00 165.96 L257.25 166.51 L257.50 166.27 L257.75 165.91 L258.00 165.93 L258.05 165.94 L258.10 166.08 L258.15 166.49 L258.20 166.50 L258.25 166.34 L258.30 166.15 L258.35 166.54 L258.40 166.41 L258.45 166.24 L258.50 166.33 L258.55 166.58 L258.60 166.18 L258.65 166.52 L258.70 166.56 L258.75 165.87 L258.80 166.18 L258.85 166.46 L258.90 166.12 L258.95 165.93 L259.00 166.32 L259.05 166.53 L259.10 166.07 L259.15 166.40 L259.20 166.53 L259.25 166.23 L259.30 166.44 L259.35 166.21 L259.40 166.18 L259.45 166.27 L259.50 166.12 L259.55 166.42 L259.60 166.30 L259.65 166.29 L259.70 166.39 L259.75 166.08 L259.80 166.23 L259.85 166.37 L259.90 166.42 L259.95 166.29 L260.00 165.90 L260.05 166.15 L260.10 165.83 L260.15 165.96 L260.20 165.87 L260.25 165.83 L260.30 165.89 L260.35 165.85 L260.40 166.31 L260.45 166.08 L260.50 166.01 L260.55 165.90 L260.60 166.28 L260.65 166.01 L260.70 166.19 L260.75 165.91 L260.80 165.80 L260.85 166.27 L260.90 166.25 L260.95 166.25 L261.00 166.32 L261.05 166.04 L261.10 165.87 L261.15 166.34 L261.20 166.00 L261.25 166.27 L261.30 165.71 L261.35 165.65 L261.40 165.71 L261.45 166.26 L261.50 166.07 L261.55 166.06 L261.60 166.14 L261.65 166.23 L261.70 165.85 L261.75 165.60 L261.80 166.02 L261.85 166.06 L261.90 165.96 L261.95 165.60 L262.00 165.94 L262.05 165.81 L262.10 165.93 L262.15 165.86 L262.20 166.01 L262.25 165.56 L262.30 165.62 L262.35 165.40 L262.40 165.77 L262.45 165.62 L262.50 165.89 L262.55 165.41 L262.60 165.69 L262.65 165.84 L262.70 165.58 L262.75 165.64 L262.80 165.83 L262.85 165.76 L262.90 165.24 L262.95 165.57 L263.00 165.40 L263.05 165.45 L263.10 165.31 L263.15 165.70 L263.20 165.49 L263.25 165.31 L263.30 165.45 L263.35 165.15 L263.40 165.51 L263.45 165.49 L263.50 165.36 L263.55 165.06 L263.60 165.32 L263.65 164.94 L263.70 164.97 L263.75 165.12 L263.80 164.98 L263.85 165.17 L263.90 165.17 L263.95 165.06 L264.00 164.89 L264.05 165.23 L264.10 165.11 L264.15 165.16 L264.20 164.77 L264.25 164.73 L264.30 164.69 L264.35 164.92 L264.40 164.99 L264.45 164.77 L264.50 165.00 L264.55 164.86 L264.60 164.62 L264.65 164.78 L264.70 164.61 L264.75 164.47 L264.80 164.39 L264.85 164.38 L264.90 164.37 L264.95 164.49 L265.00 164.34 L265.05 164.27 L265.10 164.31 L265.15 164.16 L265.20 164.27 L265.25 164.14 L265.30 164.17 L265.35 164.13 L265.40 164.14 L265.45 164.00 L265.50 164.06 L265.55 163.76 L265.60 163.72 L265.65 163.49 L265.70 163.32 L265.75 163.17 L265.80 163.00 L265.85 162.83 L265.90 162.67 L265.95 162.50 L266.00 162.33 L266.05 162.17 L266.10 162.00 L266.15 161.33 L266.20 160.67 L266.25 160.00 L266.30 159.33 L266.35 158.67 L266.40 158.00 L266.45 157.00 L266.50 156.00 L266.55 155.00 L266.60 154.00 L266.65 153.00 L266.70 152.00 L266.75 151.00 L266.80 150.00 L266.85 149.00 L266.90 148.00 L266.95 147.00 L267.00 146.00 L267.05 145.00 L267.10 144.00 L267.15 143.00 L267.20 142.00 L267.25 141.00 L267.30 140.00 L267.35 139.14 L267.40 138.29 L267.45 137.43 L267.50 136.57 L267.55 135.71 L267.60 134.86 L267.65 134.00 L267.70 133.14 L267.75 132.29 L267.80 131.43 L267.85 130.57 L267.90 129.71 L267.95 128.86 L268.00 128.00 L268.05 127.17 L268.10 126.33 L268.15 125.50 L268.20 124.67 L268.25 123.83 L268.30 123.00 L268.35 122.17 L268.40 121.33 L268.45 120.50 L268.50 119.67 L268.55 118.83 L268.60 118.00 L268.65 116.38 L268.70 114.75 L268.75 113.13 L268.80 111.50 L268.85 109.87 L268.90 108.25 L268.95 106.63 L269.00 105.00 L269.05 102.87 L269.10 100.75 L269.15 98.63 L269.20 96.50 L269.25 94.37 L269.30 92.25 L269.35 90.12 L269.40 88.00 L269.45 85.75 L269.50 83.50 L269.55 81.25 L269.60 79.00 L269.65 76.75 L269.70 74.50 L269.75 72.25 L269.80 70.00 L269.85 68.40 L269.90 66.80 L269.95 65.20 L270.00 63.60 L270.05 62.00 L270.10 61.52 L270.15 61.04 L270.20 60.56 L270.25 60.08 L270.30 59.60 L270.35 60.00 L270.40 60.40 L270.45 60.80 L270.50 61.20 L270.55 61.60 L270.60 62.00 L270.65 64.17 L270.70 66.33 L270.75 68.50 L270.80 70.67 L270.85 72.83 L270.90 75.00 L270.95 79.17 L271.00 83.33 L271.05 87.50 L271.10 91.67 L271.15 95.83 L271.20 100.00 L271.25 105.00 L271.30 110.00 L271.35 115.00 L271.40 120.00 L271.45 126.67 L271.50 133.33 L271.55 140.00 L271.60 143.75 L271.65 147.50 L271.70 151.25 L271.75 155.00 L271.80 156.20 L271.85 157.40 L271.90 158.60 L271.95 159.80 L272.00 161.00 L272.05 161.25 L272.10 161.50 L272.15 161.75 L272.20 162.00 L272.25 162.25 L272.30 162.50 L272.35 162.75 L272.40 163.00 L272.45 163.25 L272.50 163.53 L272.55 163.77 L272.60 164.09 L272.65 164.14 L272.70 164.09 L272.75 164.17 L272.80 164.50 L272.85 164.31 L272.90 164.44 L272.95 164.63 L273.00 164.68 L273.05 164.68 L273.10 164.96 L273.15 165.11 L273.20 165.15 L273.25 165.41 L273.30 165.27 L273.35 165.07 L273.40 165.58 L273.45 165.57 L273.50 165.40 L273.55 165.61 L273.60 165.32 L273.65 165.61 L273.70 165.65 L273.75 165.95 L273.80 165.51 L273.85 165.51 L273.90 165.47 L273.95 166.04 L274.00 165.72 L274.05 165.92 L274.10 166.12 L274.15 166.05 L274.20 165.60 L274.25 165.79 L274.30 165.65 L274.35 165.59 L274.40 165.65 L274.45 165.89 L274.50 166.24 L274.55 165.78 L274.60 165.73 L274.65 166.08 L274.70 165.84 L274.75 166.05 L274.80 165.90 L274.85 166.06 L274.90 166.24 L274.95 166.51 L275.00 166.39 L275.25 165.92 L275.50 166.08 L275.75 166.08 L276.00 166.08 L276.25 166.28 L276.50 166.62 L276.75 166.40 L277.00 166.52 L277.25 165.89 L277.50 166.60 L277.75 166.02 L278.00 166.30 L278.25 166.21 L278.50 166.56 L278.75 166.51 L279.00 166.17 L279.25 165.90 L279.50 166.52 L279.75 166.39 L280.00 166.59 L280.25 166.18 L280.50 166.63 L280.75 166.47 L281.00 166.66 L281.25 166.20 L281.50 166.30 L281.75 166.43 L282.00 166.40 L282.25 166.45 L282.50 166.18 L282.75 165.99 L283.00 166.07 L283.25 166.65 L283.50 166.06 L283.75 166.64 L284.00 166.68 L284.25 166.00 L284.50 166.16 L284.75 166.39 L285.00 166.65 L285.25 166.44 L285.50 166.15 L285.75 166.10 L286.00 166.23 L286.25 166.33 L286.50 166.79 L286.75 166.35 L287.00 166.56 L287.25 166.79 L287.50 166.30 L287.75 166.20 L288.00 166.06 L288.25 166.56 L288.50 166.67 L288.75 166.47 L289.00 166.41 L289.25 166.13 L289.50 166.46 L289.75 166.70 L290.00 166.37 L290.25 166.86 L290.50 166.18 L290.75 166.53 L291.00 166.68 L291.25 166.19 L291.50 166.75 L291.75 166.48 L292.00 166.43 L292.25 166.54 L292.50 166.83 L292.75 166.66 L293.00 166.62 L293.25 166.92 L293.50 166.43 L293.75 166.61 L294.00 166.49 L294.25 166.57 L294.50 166.87 L294.75 166.31 L295.00 166.96 L295.25 166.83 L295.50 166.34 L295.75 166.45 L296.00 166.53 L296.25 166.34 L296.50 166.49 L296.75 166.79 L297.00 166.54 L297.25 166.58 L297.50 166.75 L297.75 166.95 L298.00 166.77 L298.25 166.36 L298.50 166.69 L298.75 166.38 L299.00 166.42 L299.25 166.56 L299.50 166.42 L299.75 166.56 L300.00 166.60 L300.25 166.51 L300.50 167.06 L300.75 166.92 L301.00 166.52 L301.25 167.03 L301.50 166.52 L301.75 166.48 L302.00 167.06 L302.25 166.65 L302.50 166.52 L302.75 166.65 L303.00 166.91 L303.25 167.10 L303.50 167.09 L303.75 167.24 L304.00 167.16 L304.25 167.24 L304.50 166.80 L304.75 167.03 L305.00 166.62 L305.25 166.81 L305.50 166.89 L305.75 167.27 L306.00 167.32 L306.25 167.06 L306.50 166.98 L306.75 167.16 L307.00 167.16 L307.25 166.89 L307.50 167.36 L307.75 167.08 L308.00 167.27 L308.25 166.94 L308.50 167.18 L308.75 167.02 L309.00 167.17 L309.25 167.31 L309.50 166.70 L309.75 166.76 L310.00 166.87 L310.25 167.29 L310.50 167.02 L310.75 167.48 L311.00 166.91 L311.25 166.84 L311.50 167.01 L311.75 167.13 L312.00 167.39 L312.25 167.50 L312.50 166.91 L312.75 166.81 L313.00 167.25 L313.25 167.22 L313.50 167.46 L313.75 166.82 L314.00 167.44 L314.25 167.28 L314.50 167.13 L314.75 167.38 L315.00 167.25 L315.25 167.39 L315.50 167.13 L315.75 166.86 L316.00 167.17 L316.25 166.86 L316.50 167.33 L316.75 167.40 L317.00 167.36 L317.25 166.94 L317.50 167.42 L317.75 166.92 L318.00 167.12 L318.25 167.21 L318.50 167.46 L318.75 167.25 L319.00 167.09 L319.25 166.74 L319.50 166.75 L319.75 167.46 L320.00 167.46 L320.25 167.27 L320.50 167.31 L320.75 167.04 L321.00 167.18 L321.25 167.45 L321.50 166.81 L321.75 167.07 L322.00 167.44 L322.25 167.26 L322.50 167.27 L322.75 166.82 L323.00 167.09 L323.25 167.00 L323.50 166.92 L323.75 167.20 L324.00 166.89 L324.25 167.44 L324.50 167.09 L324.75 167.27 L325.00 166.97 L325.25 166.90 L325.50 167.52 L325.75 167.07 L326.00 167.33 L326.25 167.08 L326.50 167.35 L326.75 167.54 L327.00 167.25 L327.25 167.16 L327.50 167.03 L327.75 166.81 L328.00 167.27 L328.25 166.99 L328.50 166.86 L328.75 167.53 L329.00 167.56 L329.25 166.94 L329.50 167.38 L329.75 167.44 L330.00 167.03 L330.25 167.34 L330.50 166.81 L330.75 166.93 L331.00 167.23 L331.25 167.13 L331.50 166.89 L331.75 167.17 L332.00 167.34 L332.25 166.99 L332.50 166.91 L332.75 166.83 L333.00 167.38 L333.25 166.99 L333.50 167.20 L333.75 167.07 L334.00 167.18 L334.25 167.59 L334.50 167.50 L334.75 167.35 L335.00 167.17 L335.25 167.12 L335.50 167.59 L335.75 166.82 L336.00 167.37 L336.25 167.51 L336.50 167.16 L336.75 166.95 L337.00 166.89 L337.25 167.52 L337.50 167.20 L337.75 167.21 L338.00 167.51 L338.25 167.41 L338.50 166.89 L338.75 166.95 L339.00 167.56 L339.25 167.42 L339.50 167.33 L339.75 167.47 L340.00 167.50 L340.25 166.88 L340.50 166.99 L340.75 167.53 L341.00 167.07 L341.25 167.38 L341.50 166.98 L341.75 167.03 L342.00 167.07 L342.25 167.58 L342.50 167.48 L342.75 167.20 L343.00 167.32 L343.25 167.01 L343.50 166.95 L343.75 167.20 L344.00 167.23 L344.25 167.64 L344.50 167.11 L344.75 167.49 L345.00 167.38 L345.25 167.00 L345.50 167.16 L345.75 167.07 L346.00 167.33 L346.25 166.87 L346.50 167.29 L346.75 167.55 L347.00 167.34 L347.25 167.12 L347.50 167.38 L347.75 167.15 L348.00 167.36 L348.25 167.61 L348.50 167.22 L348.75 167.54 L349.00 167.15 L349.25 167.61 L349.50 167.11 L349.75 167.66 L350.00 167.01 L350.25 167.05 L350.50 167.36 L350.75 167.20 L351.00 166.96 L351.25 167.13 L351.50 167.04 L351.75 166.91 L352.00 167.01 L352.25 167.64 L352.50 167.31 L352.75 167.42 L353.00 166.92 L353.25 167.17 L353.50 167.33 L353.75 167.36 L354.00 167.63 L354.25 167.42 L354.50 167.64 L354.75 167.40 L355.00 167.10 L355.25 166.95 L355.50 167.65 L355.75 166.95 L356.00 167.15" stroke="#008080" stroke-width="1.2"/>
</g>
<g stroke="#000" fill="none">
<path d="M30.4 0 V232" stroke-width="1.8"/>
<path d="M357 0 V232" stroke-width="2"/>
<path d="M29.5 1 H358" stroke-width="2"/>
<path d="M29.5 230.8 H358" stroke-width="1.8"/>
<path d="M44.50 230 V228.70 M58.70 230 V228.70 M72.90 230 V228.70 M87.10 230 V228.70 M101.30 230 V226.50 M115.50 230 V228.70 M129.70 230 V228.70 M143.90 230 V228.70 M158.10 230 V228.70 M172.30 230 V226.50 M186.50 230 V228.70 M200.70 230 V228.70 M214.90 230 V228.70 M229.10 230 V228.70 M243.30 230 V226.50 M257.50 230 V228.70 M271.70 230 V228.70 M285.90 230 V228.70 M300.10 230 V228.70 M314.30 230 V226.50 M328.50 230 V228.70 M342.70 230 V228.70" stroke-width="1.4" stroke-linecap="round"/>
</g>
<g fill="#000" stroke="#000" stroke-width="0.2">
<text x="30.90" y="247.3" text-anchor="middle" font-size="15">10</text><text x="101.40" y="247.3" text-anchor="middle" font-size="15">20</text><text x="172.40" y="247.3" text-anchor="middle" font-size="15">30</text><text x="243.40" y="247.3" text-anchor="middle" font-size="15">40</text><text x="314.40" y="247.3" text-anchor="middle" font-size="15">50</text>
<text x="64.2" y="17.0" font-size="16.4" textLength="34.2" lengthAdjust="spacingAndGlyphs">FeTe</text>
<text x="98.6" y="23.5" font-size="10.8">1-x</text>
<text x="112.0" y="17.0" font-size="16.4">S</text>
<text x="121.2" y="23.5" font-size="10.8">x</text>
<text x="63.6" y="42.6" font-size="17">Single Crystal XRD</text>
<text x="312" y="15.8" font-size="14" textLength="40.5" lengthAdjust="spacingAndGlyphs">x=0.00</text>
<text x="312" y="33.4" font-size="14" textLength="40.5" lengthAdjust="spacingAndGlyphs">x=0.05</text>
<text x="312" y="50.6" font-size="14" textLength="40.5" lengthAdjust="spacingAndGlyphs">x=0.25</text>
<text transform="translate(51.6 108.6) scale(1.04 1) rotate(-90)" font-size="14.2">(001)</text>
<text transform="translate(153.3 132.4) scale(1.04 1) rotate(-90)" font-size="14.2">(002)</text>
<text transform="translate(260.1 104.0) scale(1.04 1) rotate(-90)" font-size="14.2">(003)</text>
<text transform="translate(13.5 204.4) scale(1.045 1) rotate(-90)" font-size="18.85">Intensity (amu.unit.)</text>
<text x="149.3" y="267.5" font-size="18">2</text>
<text x="160.1" y="267.5" font-size="18" font-style="italic">θ</text>
<text x="172.6" y="267.5" font-size="18" textLength="61.5" lengthAdjust="spacingAndGlyphs">(degree)</text>
</g>
<g stroke-width="1.4" stroke-linecap="round">
<path d="M274.9 11.4 H308.1" stroke="#000"/>
<path d="M274.9 28.6 H308.1" stroke="#ff0000"/>
<path d="M274.9 46.3 H308.1" stroke="#008080"/>
</g>
</svg>
</body></html>
